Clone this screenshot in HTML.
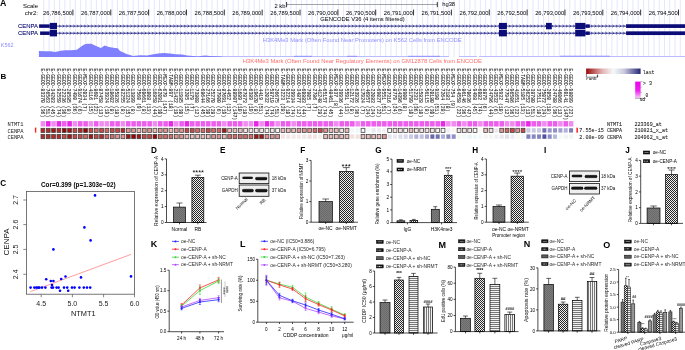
<!DOCTYPE html>
<html><head><meta charset="utf-8"><title>Figure</title>
<style>html,body{margin:0;padding:0;background:#fff;overflow:hidden}svg{display:block}</style>
</head><body><div id="fig">
<svg width="685" height="350" viewBox="0 0 685 350">
<rect width="685" height="350" fill="#fff"/>
<defs><pattern id="pDark" width="2" height="2" patternUnits="userSpaceOnUse"><rect width="2" height="2" fill="#7c7c7c"/><rect width="1" height="1" fill="#6a6a6a"/><rect x="1" y="1" width="1" height="1" fill="#6a6a6a"/></pattern><pattern id="pCheck" width="2" height="2" patternUnits="userSpaceOnUse"><rect width="2" height="2" fill="#eeeeee"/><rect width="1" height="1" fill="#262626"/><rect x="1" y="1" width="1" height="1" fill="#262626"/></pattern><pattern id="pHor" width="2" height="2" patternUnits="userSpaceOnUse"><rect width="2" height="2" fill="#f2f2f2"/><rect width="2" height="0.8" fill="#5a5a5a"/></pattern><pattern id="pVer" width="2" height="2" patternUnits="userSpaceOnUse"><rect width="2" height="2" fill="#f2f2f2"/><rect width="0.8" height="2" fill="#5a5a5a"/></pattern><pattern id="pMid" width="2" height="2" patternUnits="userSpaceOnUse"><rect width="2" height="2" fill="#9a9a9a"/><rect width="1" height="1" fill="#8a8a8a"/></pattern><linearGradient id="gBand" x1="0" x2="0" y1="0" y2="1"><stop offset="0" stop-color="#555" stop-opacity="0"/><stop offset="0.3" stop-color="#161616"/><stop offset="0.7" stop-color="#161616"/><stop offset="1" stop-color="#555" stop-opacity="0"/></linearGradient><filter id="blr" x="-20%" y="-80%" width="140%" height="260%"><feGaussianBlur stdDeviation="0.65"/></filter></defs>
<g>
<path d="M43.80 0V57 M49.06 0V57 M54.32 0V57 M59.58 0V57 M64.84 0V57 M70.10 0V57 M75.36 0V57 M80.62 0V57 M85.88 0V57 M91.14 0V57 M96.40 0V57 M101.66 0V57 M106.92 0V57 M112.18 0V57 M117.44 0V57 M122.70 0V57 M127.96 0V57 M133.22 0V57 M138.48 0V57 M143.74 0V57 M149.00 0V57 M154.26 0V57 M159.52 0V57 M164.78 0V57 M170.04 0V57 M175.30 0V57 M180.56 0V57 M185.82 0V57 M191.08 0V57 M196.34 0V57 M201.60 0V57 M206.86 0V57 M212.12 0V57 M217.38 0V57 M222.64 0V57 M227.90 0V57 M233.16 0V57 M238.42 0V57 M243.68 0V57 M248.94 0V57 M254.20 0V57 M259.46 0V57 M264.72 0V57 M269.98 0V57 M275.24 0V57 M280.50 0V57 M285.76 0V57 M291.02 0V57 M296.28 0V57 M301.54 0V57 M306.80 0V57 M312.06 0V57 M317.32 0V57 M322.58 0V57 M327.84 0V57 M333.10 0V57 M338.36 0V57 M343.62 0V57 M348.88 0V57 M354.14 0V57 M359.40 0V57 M364.66 0V57 M369.92 0V57 M375.18 0V57 M380.44 0V57 M385.70 0V57 M390.96 0V57 M396.22 0V57 M401.48 0V57 M406.74 0V57 M412.00 0V57 M417.26 0V57 M422.52 0V57 M427.78 0V57 M433.04 0V57 M438.30 0V57 M443.56 0V57 M448.82 0V57 M454.08 0V57 M459.34 0V57 M464.60 0V57 M469.86 0V57 M475.12 0V57 M480.38 0V57 M485.64 0V57 M490.90 0V57 M496.16 0V57 M501.42 0V57 M506.68 0V57 M511.94 0V57 M517.20 0V57 M522.46 0V57 M527.72 0V57 M532.98 0V57 M538.24 0V57 M543.50 0V57 M548.76 0V57 M554.02 0V57 M559.28 0V57 M564.54 0V57 M569.80 0V57 M575.06 0V57 M580.32 0V57 M585.58 0V57 M590.84 0V57 M596.10 0V57 M601.36 0V57 M606.62 0V57 M611.88 0V57 M617.14 0V57 M622.40 0V57 M627.66 0V57 M632.92 0V57 M638.18 0V57 M643.44 0V57 M648.70 0V57 M653.96 0V57 M659.22 0V57 M664.48 0V57 M669.74 0V57 M675.00 0V57 M680.26 0V57 M685.52 0V57" stroke="#e6e6ff" stroke-width="1" fill="none"/>
<text x="0.00" y="5.50" font-size="8.8" fill="#000" font-weight="bold" font-family="'Liberation Sans', Arial, sans-serif" >A</text>
<text x="38.00" y="8.40" font-size="6" fill="#000" text-anchor="end" font-family="'Liberation Sans', Arial, sans-serif" >Scale</text>
<text x="38.00" y="14.80" font-size="6" fill="#000" text-anchor="end" font-family="'Liberation Sans', Arial, sans-serif" >chr2:</text>
<text x="72.10" y="14.80" font-size="5.8" fill="#000" text-anchor="end" font-family="'Liberation Sans', Arial, sans-serif" >26,786,500</text>
<text x="109.95" y="14.80" font-size="5.8" fill="#000" text-anchor="end" font-family="'Liberation Sans', Arial, sans-serif" >26,787,000</text>
<text x="147.80" y="14.80" font-size="5.8" fill="#000" text-anchor="end" font-family="'Liberation Sans', Arial, sans-serif" >26,787,500</text>
<text x="185.65" y="14.80" font-size="5.8" fill="#000" text-anchor="end" font-family="'Liberation Sans', Arial, sans-serif" >26,788,000</text>
<text x="223.50" y="14.80" font-size="5.8" fill="#000" text-anchor="end" font-family="'Liberation Sans', Arial, sans-serif" >26,788,500</text>
<text x="261.35" y="14.80" font-size="5.8" fill="#000" text-anchor="end" font-family="'Liberation Sans', Arial, sans-serif" >26,789,000</text>
<text x="299.20" y="14.80" font-size="5.8" fill="#000" text-anchor="end" font-family="'Liberation Sans', Arial, sans-serif" >26,789,500</text>
<text x="337.05" y="14.80" font-size="5.8" fill="#000" text-anchor="end" font-family="'Liberation Sans', Arial, sans-serif" >26,790,000</text>
<text x="374.90" y="14.80" font-size="5.8" fill="#000" text-anchor="end" font-family="'Liberation Sans', Arial, sans-serif" >26,790,500</text>
<text x="412.75" y="14.80" font-size="5.8" fill="#000" text-anchor="end" font-family="'Liberation Sans', Arial, sans-serif" >26,791,000</text>
<text x="450.60" y="14.80" font-size="5.8" fill="#000" text-anchor="end" font-family="'Liberation Sans', Arial, sans-serif" >26,791,500</text>
<text x="488.45" y="14.80" font-size="5.8" fill="#000" text-anchor="end" font-family="'Liberation Sans', Arial, sans-serif" >26,792,000</text>
<text x="526.30" y="14.80" font-size="5.8" fill="#000" text-anchor="end" font-family="'Liberation Sans', Arial, sans-serif" >26,792,500</text>
<text x="564.15" y="14.80" font-size="5.8" fill="#000" text-anchor="end" font-family="'Liberation Sans', Arial, sans-serif" >26,793,000</text>
<text x="602.00" y="14.80" font-size="5.8" fill="#000" text-anchor="end" font-family="'Liberation Sans', Arial, sans-serif" >26,793,500</text>
<text x="639.85" y="14.80" font-size="5.8" fill="#000" text-anchor="end" font-family="'Liberation Sans', Arial, sans-serif" >26,794,000</text>
<text x="677.70" y="14.80" font-size="5.8" fill="#000" text-anchor="end" font-family="'Liberation Sans', Arial, sans-serif" >26,794,500</text>
<path d="M72.90 9.6V15.4 M110.75 9.6V15.4 M148.60 9.6V15.4 M186.45 9.6V15.4 M224.30 9.6V15.4 M262.15 9.6V15.4 M300.00 9.6V15.4 M337.85 9.6V15.4 M375.70 9.6V15.4 M413.55 9.6V15.4 M451.40 9.6V15.4 M489.25 9.6V15.4 M527.10 9.6V15.4 M564.95 9.6V15.4 M602.80 9.6V15.4 M640.65 9.6V15.4 M678.50 9.6V15.4" stroke="#000" stroke-width="0.8"/>
<text x="285.50" y="7.60" font-size="5.8" fill="#000" text-anchor="end" font-family="'Liberation Sans', Arial, sans-serif" >2 kb</text>
<path d="M286.6 4.5H437.3" stroke="#9a9a9a" stroke-width="0.9"/>
<path d="M286.6 2V7.2M437.3 2V7.2" stroke="#000" stroke-width="0.8"/>
<text x="442.20" y="6.40" font-size="5.8" fill="#000" font-family="'Liberation Sans', Arial, sans-serif" >hg38</text>
<text x="362.50" y="21.30" font-size="5.8" fill="#000" text-anchor="middle" font-family="'Liberation Sans', Arial, sans-serif" >GENCODE V36 (4 items filtered)</text>
<path d="M50 26.10H686" stroke="#0c0c78" stroke-width="0.8"/>
<path d="M59.00 24.85L60.50 26.10L59.00 27.35 M62.57 24.85L64.07 26.10L62.57 27.35 M66.14 24.85L67.64 26.10L66.14 27.35 M69.71 24.85L71.21 26.10L69.71 27.35 M73.28 24.85L74.78 26.10L73.28 27.35 M76.85 24.85L78.35 26.10L76.85 27.35 M80.42 24.85L81.92 26.10L80.42 27.35 M83.99 24.85L85.49 26.10L83.99 27.35 M87.56 24.85L89.06 26.10L87.56 27.35 M91.13 24.85L92.63 26.10L91.13 27.35 M94.70 24.85L96.20 26.10L94.70 27.35 M98.27 24.85L99.77 26.10L98.27 27.35 M101.84 24.85L103.34 26.10L101.84 27.35 M105.41 24.85L106.91 26.10L105.41 27.35 M108.98 24.85L110.48 26.10L108.98 27.35 M112.55 24.85L114.05 26.10L112.55 27.35 M116.12 24.85L117.62 26.10L116.12 27.35 M119.69 24.85L121.19 26.10L119.69 27.35 M123.26 24.85L124.76 26.10L123.26 27.35 M126.83 24.85L128.33 26.10L126.83 27.35 M130.40 24.85L131.90 26.10L130.40 27.35 M133.97 24.85L135.47 26.10L133.97 27.35 M137.54 24.85L139.04 26.10L137.54 27.35 M141.11 24.85L142.61 26.10L141.11 27.35 M144.68 24.85L146.18 26.10L144.68 27.35 M148.25 24.85L149.75 26.10L148.25 27.35 M151.82 24.85L153.32 26.10L151.82 27.35 M155.39 24.85L156.89 26.10L155.39 27.35 M158.96 24.85L160.46 26.10L158.96 27.35 M162.53 24.85L164.03 26.10L162.53 27.35 M166.10 24.85L167.60 26.10L166.10 27.35 M169.67 24.85L171.17 26.10L169.67 27.35 M173.24 24.85L174.74 26.10L173.24 27.35 M176.81 24.85L178.31 26.10L176.81 27.35 M180.38 24.85L181.88 26.10L180.38 27.35 M183.95 24.85L185.45 26.10L183.95 27.35 M187.52 24.85L189.02 26.10L187.52 27.35 M191.09 24.85L192.59 26.10L191.09 27.35 M194.66 24.85L196.16 26.10L194.66 27.35 M198.23 24.85L199.73 26.10L198.23 27.35 M201.80 24.85L203.30 26.10L201.80 27.35 M205.37 24.85L206.87 26.10L205.37 27.35 M208.94 24.85L210.44 26.10L208.94 27.35 M212.51 24.85L214.01 26.10L212.51 27.35 M216.08 24.85L217.58 26.10L216.08 27.35 M219.65 24.85L221.15 26.10L219.65 27.35 M223.22 24.85L224.72 26.10L223.22 27.35 M226.79 24.85L228.29 26.10L226.79 27.35 M230.36 24.85L231.86 26.10L230.36 27.35 M233.93 24.85L235.43 26.10L233.93 27.35 M237.50 24.85L239.00 26.10L237.50 27.35 M241.07 24.85L242.57 26.10L241.07 27.35 M244.64 24.85L246.14 26.10L244.64 27.35 M248.21 24.85L249.71 26.10L248.21 27.35 M251.78 24.85L253.28 26.10L251.78 27.35 M255.35 24.85L256.85 26.10L255.35 27.35 M258.92 24.85L260.42 26.10L258.92 27.35 M262.49 24.85L263.99 26.10L262.49 27.35 M266.06 24.85L267.56 26.10L266.06 27.35 M269.63 24.85L271.13 26.10L269.63 27.35 M273.20 24.85L274.70 26.10L273.20 27.35 M276.77 24.85L278.27 26.10L276.77 27.35 M280.34 24.85L281.84 26.10L280.34 27.35 M283.91 24.85L285.41 26.10L283.91 27.35 M287.48 24.85L288.98 26.10L287.48 27.35 M291.05 24.85L292.55 26.10L291.05 27.35 M294.62 24.85L296.12 26.10L294.62 27.35 M298.19 24.85L299.69 26.10L298.19 27.35 M301.76 24.85L303.26 26.10L301.76 27.35 M305.33 24.85L306.83 26.10L305.33 27.35 M308.90 24.85L310.40 26.10L308.90 27.35 M312.47 24.85L313.97 26.10L312.47 27.35 M316.04 24.85L317.54 26.10L316.04 27.35 M319.61 24.85L321.11 26.10L319.61 27.35 M323.18 24.85L324.68 26.10L323.18 27.35 M326.75 24.85L328.25 26.10L326.75 27.35 M330.32 24.85L331.82 26.10L330.32 27.35 M333.89 24.85L335.39 26.10L333.89 27.35 M337.46 24.85L338.96 26.10L337.46 27.35 M341.03 24.85L342.53 26.10L341.03 27.35 M344.60 24.85L346.10 26.10L344.60 27.35 M348.17 24.85L349.67 26.10L348.17 27.35 M351.74 24.85L353.24 26.10L351.74 27.35 M355.31 24.85L356.81 26.10L355.31 27.35 M358.88 24.85L360.38 26.10L358.88 27.35 M362.45 24.85L363.95 26.10L362.45 27.35 M366.02 24.85L367.52 26.10L366.02 27.35 M369.59 24.85L371.09 26.10L369.59 27.35 M373.16 24.85L374.66 26.10L373.16 27.35 M376.73 24.85L378.23 26.10L376.73 27.35 M380.30 24.85L381.80 26.10L380.30 27.35 M383.87 24.85L385.37 26.10L383.87 27.35 M387.44 24.85L388.94 26.10L387.44 27.35 M391.01 24.85L392.51 26.10L391.01 27.35 M394.58 24.85L396.08 26.10L394.58 27.35 M398.15 24.85L399.65 26.10L398.15 27.35 M401.72 24.85L403.22 26.10L401.72 27.35 M405.29 24.85L406.79 26.10L405.29 27.35 M408.86 24.85L410.36 26.10L408.86 27.35 M412.43 24.85L413.93 26.10L412.43 27.35 M416.00 24.85L417.50 26.10L416.00 27.35 M419.57 24.85L421.07 26.10L419.57 27.35 M423.14 24.85L424.64 26.10L423.14 27.35 M426.71 24.85L428.21 26.10L426.71 27.35 M430.28 24.85L431.78 26.10L430.28 27.35 M433.85 24.85L435.35 26.10L433.85 27.35 M437.42 24.85L438.92 26.10L437.42 27.35 M440.99 24.85L442.49 26.10L440.99 27.35 M444.56 24.85L446.06 26.10L444.56 27.35 M448.13 24.85L449.63 26.10L448.13 27.35 M451.70 24.85L453.20 26.10L451.70 27.35 M455.27 24.85L456.77 26.10L455.27 27.35 M458.84 24.85L460.34 26.10L458.84 27.35 M462.41 24.85L463.91 26.10L462.41 27.35 M465.98 24.85L467.48 26.10L465.98 27.35 M469.55 24.85L471.05 26.10L469.55 27.35 M473.12 24.85L474.62 26.10L473.12 27.35 M476.69 24.85L478.19 26.10L476.69 27.35 M480.26 24.85L481.76 26.10L480.26 27.35 M483.83 24.85L485.33 26.10L483.83 27.35 M487.40 24.85L488.90 26.10L487.40 27.35 M490.97 24.85L492.47 26.10L490.97 27.35 M494.54 24.85L496.04 26.10L494.54 27.35 M498.11 24.85L499.61 26.10L498.11 27.35 M501.68 24.85L503.18 26.10L501.68 27.35 M505.25 24.85L506.75 26.10L505.25 27.35 M508.82 24.85L510.32 26.10L508.82 27.35 M512.39 24.85L513.89 26.10L512.39 27.35 M515.96 24.85L517.46 26.10L515.96 27.35 M519.53 24.85L521.03 26.10L519.53 27.35 M523.10 24.85L524.60 26.10L523.10 27.35 M526.67 24.85L528.17 26.10L526.67 27.35 M530.24 24.85L531.74 26.10L530.24 27.35 M533.81 24.85L535.31 26.10L533.81 27.35 M537.38 24.85L538.88 26.10L537.38 27.35 M540.95 24.85L542.45 26.10L540.95 27.35 M544.52 24.85L546.02 26.10L544.52 27.35 M548.09 24.85L549.59 26.10L548.09 27.35 M551.66 24.85L553.16 26.10L551.66 27.35 M555.23 24.85L556.73 26.10L555.23 27.35 M558.80 24.85L560.30 26.10L558.80 27.35 M562.37 24.85L563.87 26.10L562.37 27.35 M565.94 24.85L567.44 26.10L565.94 27.35 M569.51 24.85L571.01 26.10L569.51 27.35 M573.08 24.85L574.58 26.10L573.08 27.35 M576.65 24.85L578.15 26.10L576.65 27.35 M580.22 24.85L581.72 26.10L580.22 27.35 M583.79 24.85L585.29 26.10L583.79 27.35 M587.36 24.85L588.86 26.10L587.36 27.35 M590.93 24.85L592.43 26.10L590.93 27.35 M594.50 24.85L596.00 26.10L594.50 27.35 M598.07 24.85L599.57 26.10L598.07 27.35 M601.64 24.85L603.14 26.10L601.64 27.35 M605.21 24.85L606.71 26.10L605.21 27.35 M608.78 24.85L610.28 26.10L608.78 27.35 M612.35 24.85L613.85 26.10L612.35 27.35 M615.92 24.85L617.42 26.10L615.92 27.35 M619.49 24.85L620.99 26.10L619.49 27.35 M623.06 24.85L624.56 26.10L623.06 27.35 M626.63 24.85L628.13 26.10L626.63 27.35 M630.20 24.85L631.70 26.10L630.20 27.35 M633.77 24.85L635.27 26.10L633.77 27.35 M637.34 24.85L638.84 26.10L637.34 27.35 M640.91 24.85L642.41 26.10L640.91 27.35 M644.48 24.85L645.98 26.10L644.48 27.35 M648.05 24.85L649.55 26.10L648.05 27.35 M651.62 24.85L653.12 26.10L651.62 27.35 M655.19 24.85L656.69 26.10L655.19 27.35 M658.76 24.85L660.26 26.10L658.76 27.35 M662.33 24.85L663.83 26.10L662.33 27.35 M665.90 24.85L667.40 26.10L665.90 27.35 M669.47 24.85L670.97 26.10L669.47 27.35 M673.04 24.85L674.54 26.10L673.04 27.35 M676.61 24.85L678.11 26.10L676.61 27.35 M680.18 24.85L681.68 26.10L680.18 27.35 M683.75 24.85L685.25 26.10L683.75 27.35" stroke="#0c0c78" stroke-width="0.6" fill="none"/>
<rect x="39.1" y="24.35" width="10.70" height="3.5" fill="#0c0c78"/>
<rect x="49.8" y="22.90" width="7.20" height="6.4" fill="#0c0c78"/>
<rect x="499.0" y="22.90" width="7.90" height="6.4" fill="#0c0c78"/>
<rect x="575.2" y="22.90" width="10.20" height="6.4" fill="#0c0c78"/>
<rect x="546.0" y="22.90" width="5.80" height="6.4" fill="#0c0c78"/>
<rect x="585.4" y="24.35" width="4.4" height="3.5" fill="#0c0c78"/>
<rect x="626.1" y="24.25" width="60" height="3.7" fill="#0c0c78"/>
<text x="37.90" y="28.20" font-size="5.9" fill="#0c0c78" text-anchor="end" font-family="'Liberation Sans', Arial, sans-serif" stroke="#0c0c78" stroke-width="0.1">CENPA</text>
<path d="M50 33.20H686" stroke="#0c0c78" stroke-width="0.8"/>
<path d="M59.00 31.95L60.50 33.20L59.00 34.45 M62.57 31.95L64.07 33.20L62.57 34.45 M66.14 31.95L67.64 33.20L66.14 34.45 M69.71 31.95L71.21 33.20L69.71 34.45 M73.28 31.95L74.78 33.20L73.28 34.45 M76.85 31.95L78.35 33.20L76.85 34.45 M80.42 31.95L81.92 33.20L80.42 34.45 M83.99 31.95L85.49 33.20L83.99 34.45 M87.56 31.95L89.06 33.20L87.56 34.45 M91.13 31.95L92.63 33.20L91.13 34.45 M94.70 31.95L96.20 33.20L94.70 34.45 M98.27 31.95L99.77 33.20L98.27 34.45 M101.84 31.95L103.34 33.20L101.84 34.45 M105.41 31.95L106.91 33.20L105.41 34.45 M108.98 31.95L110.48 33.20L108.98 34.45 M112.55 31.95L114.05 33.20L112.55 34.45 M116.12 31.95L117.62 33.20L116.12 34.45 M119.69 31.95L121.19 33.20L119.69 34.45 M123.26 31.95L124.76 33.20L123.26 34.45 M126.83 31.95L128.33 33.20L126.83 34.45 M130.40 31.95L131.90 33.20L130.40 34.45 M133.97 31.95L135.47 33.20L133.97 34.45 M137.54 31.95L139.04 33.20L137.54 34.45 M141.11 31.95L142.61 33.20L141.11 34.45 M144.68 31.95L146.18 33.20L144.68 34.45 M148.25 31.95L149.75 33.20L148.25 34.45 M151.82 31.95L153.32 33.20L151.82 34.45 M155.39 31.95L156.89 33.20L155.39 34.45 M158.96 31.95L160.46 33.20L158.96 34.45 M162.53 31.95L164.03 33.20L162.53 34.45 M166.10 31.95L167.60 33.20L166.10 34.45 M169.67 31.95L171.17 33.20L169.67 34.45 M173.24 31.95L174.74 33.20L173.24 34.45 M176.81 31.95L178.31 33.20L176.81 34.45 M180.38 31.95L181.88 33.20L180.38 34.45 M183.95 31.95L185.45 33.20L183.95 34.45 M187.52 31.95L189.02 33.20L187.52 34.45 M191.09 31.95L192.59 33.20L191.09 34.45 M194.66 31.95L196.16 33.20L194.66 34.45 M198.23 31.95L199.73 33.20L198.23 34.45 M201.80 31.95L203.30 33.20L201.80 34.45 M205.37 31.95L206.87 33.20L205.37 34.45 M208.94 31.95L210.44 33.20L208.94 34.45 M212.51 31.95L214.01 33.20L212.51 34.45 M216.08 31.95L217.58 33.20L216.08 34.45 M219.65 31.95L221.15 33.20L219.65 34.45 M223.22 31.95L224.72 33.20L223.22 34.45 M226.79 31.95L228.29 33.20L226.79 34.45 M230.36 31.95L231.86 33.20L230.36 34.45 M233.93 31.95L235.43 33.20L233.93 34.45 M237.50 31.95L239.00 33.20L237.50 34.45 M241.07 31.95L242.57 33.20L241.07 34.45 M244.64 31.95L246.14 33.20L244.64 34.45 M248.21 31.95L249.71 33.20L248.21 34.45 M251.78 31.95L253.28 33.20L251.78 34.45 M255.35 31.95L256.85 33.20L255.35 34.45 M258.92 31.95L260.42 33.20L258.92 34.45 M262.49 31.95L263.99 33.20L262.49 34.45 M266.06 31.95L267.56 33.20L266.06 34.45 M269.63 31.95L271.13 33.20L269.63 34.45 M273.20 31.95L274.70 33.20L273.20 34.45 M276.77 31.95L278.27 33.20L276.77 34.45 M280.34 31.95L281.84 33.20L280.34 34.45 M283.91 31.95L285.41 33.20L283.91 34.45 M287.48 31.95L288.98 33.20L287.48 34.45 M291.05 31.95L292.55 33.20L291.05 34.45 M294.62 31.95L296.12 33.20L294.62 34.45 M298.19 31.95L299.69 33.20L298.19 34.45 M301.76 31.95L303.26 33.20L301.76 34.45 M305.33 31.95L306.83 33.20L305.33 34.45 M308.90 31.95L310.40 33.20L308.90 34.45 M312.47 31.95L313.97 33.20L312.47 34.45 M316.04 31.95L317.54 33.20L316.04 34.45 M319.61 31.95L321.11 33.20L319.61 34.45 M323.18 31.95L324.68 33.20L323.18 34.45 M326.75 31.95L328.25 33.20L326.75 34.45 M330.32 31.95L331.82 33.20L330.32 34.45 M333.89 31.95L335.39 33.20L333.89 34.45 M337.46 31.95L338.96 33.20L337.46 34.45 M341.03 31.95L342.53 33.20L341.03 34.45 M344.60 31.95L346.10 33.20L344.60 34.45 M348.17 31.95L349.67 33.20L348.17 34.45 M351.74 31.95L353.24 33.20L351.74 34.45 M355.31 31.95L356.81 33.20L355.31 34.45 M358.88 31.95L360.38 33.20L358.88 34.45 M362.45 31.95L363.95 33.20L362.45 34.45 M366.02 31.95L367.52 33.20L366.02 34.45 M369.59 31.95L371.09 33.20L369.59 34.45 M373.16 31.95L374.66 33.20L373.16 34.45 M376.73 31.95L378.23 33.20L376.73 34.45 M380.30 31.95L381.80 33.20L380.30 34.45 M383.87 31.95L385.37 33.20L383.87 34.45 M387.44 31.95L388.94 33.20L387.44 34.45 M391.01 31.95L392.51 33.20L391.01 34.45 M394.58 31.95L396.08 33.20L394.58 34.45 M398.15 31.95L399.65 33.20L398.15 34.45 M401.72 31.95L403.22 33.20L401.72 34.45 M405.29 31.95L406.79 33.20L405.29 34.45 M408.86 31.95L410.36 33.20L408.86 34.45 M412.43 31.95L413.93 33.20L412.43 34.45 M416.00 31.95L417.50 33.20L416.00 34.45 M419.57 31.95L421.07 33.20L419.57 34.45 M423.14 31.95L424.64 33.20L423.14 34.45 M426.71 31.95L428.21 33.20L426.71 34.45 M430.28 31.95L431.78 33.20L430.28 34.45 M433.85 31.95L435.35 33.20L433.85 34.45 M437.42 31.95L438.92 33.20L437.42 34.45 M440.99 31.95L442.49 33.20L440.99 34.45 M444.56 31.95L446.06 33.20L444.56 34.45 M448.13 31.95L449.63 33.20L448.13 34.45 M451.70 31.95L453.20 33.20L451.70 34.45 M455.27 31.95L456.77 33.20L455.27 34.45 M458.84 31.95L460.34 33.20L458.84 34.45 M462.41 31.95L463.91 33.20L462.41 34.45 M465.98 31.95L467.48 33.20L465.98 34.45 M469.55 31.95L471.05 33.20L469.55 34.45 M473.12 31.95L474.62 33.20L473.12 34.45 M476.69 31.95L478.19 33.20L476.69 34.45 M480.26 31.95L481.76 33.20L480.26 34.45 M483.83 31.95L485.33 33.20L483.83 34.45 M487.40 31.95L488.90 33.20L487.40 34.45 M490.97 31.95L492.47 33.20L490.97 34.45 M494.54 31.95L496.04 33.20L494.54 34.45 M498.11 31.95L499.61 33.20L498.11 34.45 M501.68 31.95L503.18 33.20L501.68 34.45 M505.25 31.95L506.75 33.20L505.25 34.45 M508.82 31.95L510.32 33.20L508.82 34.45 M512.39 31.95L513.89 33.20L512.39 34.45 M515.96 31.95L517.46 33.20L515.96 34.45 M519.53 31.95L521.03 33.20L519.53 34.45 M523.10 31.95L524.60 33.20L523.10 34.45 M526.67 31.95L528.17 33.20L526.67 34.45 M530.24 31.95L531.74 33.20L530.24 34.45 M533.81 31.95L535.31 33.20L533.81 34.45 M537.38 31.95L538.88 33.20L537.38 34.45 M540.95 31.95L542.45 33.20L540.95 34.45 M544.52 31.95L546.02 33.20L544.52 34.45 M548.09 31.95L549.59 33.20L548.09 34.45 M551.66 31.95L553.16 33.20L551.66 34.45 M555.23 31.95L556.73 33.20L555.23 34.45 M558.80 31.95L560.30 33.20L558.80 34.45 M562.37 31.95L563.87 33.20L562.37 34.45 M565.94 31.95L567.44 33.20L565.94 34.45 M569.51 31.95L571.01 33.20L569.51 34.45 M573.08 31.95L574.58 33.20L573.08 34.45 M576.65 31.95L578.15 33.20L576.65 34.45 M580.22 31.95L581.72 33.20L580.22 34.45 M583.79 31.95L585.29 33.20L583.79 34.45 M587.36 31.95L588.86 33.20L587.36 34.45 M590.93 31.95L592.43 33.20L590.93 34.45 M594.50 31.95L596.00 33.20L594.50 34.45 M598.07 31.95L599.57 33.20L598.07 34.45 M601.64 31.95L603.14 33.20L601.64 34.45 M605.21 31.95L606.71 33.20L605.21 34.45 M608.78 31.95L610.28 33.20L608.78 34.45 M612.35 31.95L613.85 33.20L612.35 34.45 M615.92 31.95L617.42 33.20L615.92 34.45 M619.49 31.95L620.99 33.20L619.49 34.45 M623.06 31.95L624.56 33.20L623.06 34.45 M626.63 31.95L628.13 33.20L626.63 34.45 M630.20 31.95L631.70 33.20L630.20 34.45 M633.77 31.95L635.27 33.20L633.77 34.45 M637.34 31.95L638.84 33.20L637.34 34.45 M640.91 31.95L642.41 33.20L640.91 34.45 M644.48 31.95L645.98 33.20L644.48 34.45 M648.05 31.95L649.55 33.20L648.05 34.45 M651.62 31.95L653.12 33.20L651.62 34.45 M655.19 31.95L656.69 33.20L655.19 34.45 M658.76 31.95L660.26 33.20L658.76 34.45 M662.33 31.95L663.83 33.20L662.33 34.45 M665.90 31.95L667.40 33.20L665.90 34.45 M669.47 31.95L670.97 33.20L669.47 34.45 M673.04 31.95L674.54 33.20L673.04 34.45 M676.61 31.95L678.11 33.20L676.61 34.45 M680.18 31.95L681.68 33.20L680.18 34.45 M683.75 31.95L685.25 33.20L683.75 34.45" stroke="#0c0c78" stroke-width="0.6" fill="none"/>
<rect x="40.1" y="31.45" width="9.70" height="3.5" fill="#0c0c78"/>
<rect x="49.8" y="30.00" width="7.20" height="6.4" fill="#0c0c78"/>
<rect x="499.0" y="30.00" width="7.90" height="6.4" fill="#0c0c78"/>
<rect x="575.2" y="30.00" width="10.20" height="6.4" fill="#0c0c78"/>
<rect x="585.4" y="31.45" width="4.4" height="3.5" fill="#0c0c78"/>
<rect x="626.1" y="31.35" width="60" height="3.7" fill="#0c0c78"/>
<text x="37.90" y="35.30" font-size="5.9" fill="#0c0c78" text-anchor="end" font-family="'Liberation Sans', Arial, sans-serif" stroke="#0c0c78" stroke-width="0.1">CENPA</text>
<text x="0.80" y="47.20" font-size="5.4" fill="#8c8cff" font-family="'Liberation Sans', Arial, sans-serif" >K562</text>
<text x="262.70" y="42.30" font-size="5.6" fill="#9090ff" font-family="'Liberation Sans', Arial, sans-serif" textLength="199" lengthAdjust="spacingAndGlyphs">H3K4Me3 Mark (Often Found Near Promoters) on K562 Cells from ENCODE</text>
<polygon points="38.9,57 38.9,51.1 44.8,51.3 50.6,51.3 55,52 60.8,50.8 65.2,50.2 71,50.3 76.9,49.8 79.8,47.5 84.2,44.5 87.1,43.7 91.5,43.7 94.4,45.2 97.3,46.5 101,48 104.6,45.6 109,47 114.8,48 117.8,48.3 120,51 123.6,52.5 126.5,54 130.9,55.3 133,56 140,55.3 147,55.6 152,54.5 158,53.6 164,53.0 170,53.5 176,54.2 182,54.6 187,55.5 193,56.0 198,56.2 205,55.5 210,56 222,56.2 222,57" fill="#8080ff"/>
<path d="M222 56.5H449 M459 56.5H477 M479 56.5H686" stroke="#b4b4ff" stroke-width="0.9"/>
<path d="M294 56.3H312M347 56.3H357M408 56.3H440M560 56.2H610" stroke="#8c8cff" stroke-width="0.9"/>
<text x="242.80" y="63.20" font-size="5.6" fill="#ff6e6e" font-family="'Liberation Sans', Arial, sans-serif" textLength="239" lengthAdjust="spacingAndGlyphs">H3K4Me3 Mark (Often Found Near Regulatory Elements) on GM12878 Cells from ENCODE</text>
<text x="0.40" y="79.30" font-size="8.0" fill="#000" font-weight="bold" font-family="'Liberation Sans', Arial, sans-serif" >B</text>
<g font-family="'Liberation Mono', 'Courier New', monospace" font-size="4.8" fill="#151515" stroke="#151515" stroke-width="0.06"><text transform="translate(42.90 68.4) rotate(90) scale(1 1.28)" dy="0.36em">E-GEOD-83370 (36)</text><text transform="translate(48.23 68.4) rotate(90) scale(1 1.28)" dy="0.36em">E-GEOD-76563 (51)</text><text transform="translate(53.57 68.4) rotate(90) scale(1 1.28)" dy="0.36em">E-GEOD-34203 (45)</text><text transform="translate(58.91 68.4) rotate(90) scale(1 1.28)" dy="0.36em">E-GEOD-92559 (74)</text><text transform="translate(64.24 68.4) rotate(90) scale(1 1.28)" dy="0.36em">E-GEOD-22336 (36)</text><text transform="translate(69.58 68.4) rotate(90) scale(1 1.28)" dy="0.36em">E-GEOD-28585 (8)</text><text transform="translate(74.91 68.4) rotate(90) scale(1 1.28)" dy="0.36em">E-GEOD-7490 (36)</text><text transform="translate(80.24 68.4) rotate(90) scale(1 1.28)" dy="0.36em">E-GEOD-91674 (6)</text><text transform="translate(85.58 68.4) rotate(90) scale(1 1.28)" dy="0.36em">E-MEXP-2034 (7)</text><text transform="translate(90.92 68.4) rotate(90) scale(1 1.28)" dy="0.36em">E-GEOD-4116 (15)</text><text transform="translate(96.25 68.4) rotate(90) scale(1 1.28)" dy="0.36em">E-GEOD-8601 (22)</text><text transform="translate(101.58 68.4) rotate(90) scale(1 1.28)" dy="0.36em">E-GEOD-87458 (13)</text><text transform="translate(106.92 68.4) rotate(90) scale(1 1.28)" dy="0.36em">E-GEOD-93924 (19)</text><text transform="translate(112.26 68.4) rotate(90) scale(1 1.28)" dy="0.36em">E-GEOD-10602 (8)</text><text transform="translate(117.59 68.4) rotate(90) scale(1 1.28)" dy="0.36em">E-GEOD-95826 (18)</text><text transform="translate(122.92 68.4) rotate(90) scale(1 1.28)" dy="0.36em">E-GEOD-82255 (8)</text><text transform="translate(128.26 68.4) rotate(90) scale(1 1.28)" dy="0.36em">E-GEOD-51324 (15)</text><text transform="translate(133.59 68.4) rotate(90) scale(1 1.28)" dy="0.36em">E-GEOD-13899 (8)</text><text transform="translate(138.93 68.4) rotate(90) scale(1 1.28)" dy="0.36em">E-GEOD-7560 (9)</text><text transform="translate(144.27 68.4) rotate(90) scale(1 1.28)" dy="0.36em">E-GEOD-60661 (8)</text><text transform="translate(149.60 68.4) rotate(90) scale(1 1.28)" dy="0.36em">E-GEOD-1008 (13)</text><text transform="translate(154.94 68.4) rotate(90) scale(1 1.28)" dy="0.36em">E-GEOD-16858 (44)</text><text transform="translate(160.27 68.4) rotate(90) scale(1 1.28)" dy="0.36em">E-GEOD-62091 (30)</text><text transform="translate(165.61 68.4) rotate(90) scale(1 1.28)" dy="0.36em">E-MEXP-679 (147)</text><text transform="translate(170.94 68.4) rotate(90) scale(1 1.28)" dy="0.36em">E-TABM-897 (18)</text><text transform="translate(176.28 68.4) rotate(90) scale(1 1.28)" dy="0.36em">E-GEOD-21422 (19)</text><text transform="translate(181.61 68.4) rotate(90) scale(1 1.28)" dy="0.36em">E-GEOD-11985 (30)</text><text transform="translate(186.94 68.4) rotate(90) scale(1 1.28)" dy="0.36em">E-GEOD-3205 (15)</text><text transform="translate(192.28 68.4) rotate(90) scale(1 1.28)" dy="0.36em">E-GEOD-1179 (7)</text><text transform="translate(197.62 68.4) rotate(90) scale(1 1.28)" dy="0.36em">E-GEOD-73808 (12)</text><text transform="translate(202.95 68.4) rotate(90) scale(1 1.28)" dy="0.36em">E-GEOD-68644 (45)</text><text transform="translate(208.28 68.4) rotate(90) scale(1 1.28)" dy="0.36em">E-GEOD-27166 (30)</text><text transform="translate(213.62 68.4) rotate(90) scale(1 1.28)" dy="0.36em">E-GEOD-25270 (28)</text><text transform="translate(218.96 68.4) rotate(90) scale(1 1.28)" dy="0.36em">E-GEOD-37900 (6)</text><text transform="translate(224.29 68.4) rotate(90) scale(1 1.28)" dy="0.36em">E-GEOD-87691 (19)</text><text transform="translate(229.62 68.4) rotate(90) scale(1 1.28)" dy="0.36em">E-GEOD-4452 (12)</text><text transform="translate(234.96 68.4) rotate(90) scale(1 1.28)" dy="0.36em">E-GEOD-88907 (147)</text><text transform="translate(240.30 68.4) rotate(90) scale(1 1.28)" dy="0.36em">E-GEOD-1689 (10)</text><text transform="translate(245.63 68.4) rotate(90) scale(1 1.28)" dy="0.36em">E-GEOD-67873 (18)</text><text transform="translate(250.97 68.4) rotate(90) scale(1 1.28)" dy="0.36em">E-GEOD-6389 (19)</text><text transform="translate(256.30 68.4) rotate(90) scale(1 1.28)" dy="0.36em">E-GEOD-19620 (8)</text><text transform="translate(261.63 68.4) rotate(90) scale(1 1.28)" dy="0.36em">E-GEOD-4419 (51)</text><text transform="translate(266.97 68.4) rotate(90) scale(1 1.28)" dy="0.36em">E-GEOD-12032 (74)</text><text transform="translate(272.31 68.4) rotate(90) scale(1 1.28)" dy="0.36em">E-GEOD-58719 (74)</text><text transform="translate(277.64 68.4) rotate(90) scale(1 1.28)" dy="0.36em">E-GEOD-26675 (51)</text><text transform="translate(282.98 68.4) rotate(90) scale(1 1.28)" dy="0.36em">E-TABM-3223 (28)</text><text transform="translate(288.31 68.4) rotate(90) scale(1 1.28)" dy="0.36em">E-GEOD-92214 (10)</text><text transform="translate(293.65 68.4) rotate(90) scale(1 1.28)" dy="0.36em">E-GEOD-39934 (74)</text><text transform="translate(298.98 68.4) rotate(90) scale(1 1.28)" dy="0.36em">E-GEOD-34877 (12)</text><text transform="translate(304.32 68.4) rotate(90) scale(1 1.28)" dy="0.36em">E-GEOD-60883 (44)</text><text transform="translate(309.65 68.4) rotate(90) scale(1 1.28)" dy="0.36em">E-GEOD-7905 (7)</text><text transform="translate(314.99 68.4) rotate(90) scale(1 1.28)" dy="0.36em">E-GEOD-2786 (7)</text><text transform="translate(320.32 68.4) rotate(90) scale(1 1.28)" dy="0.36em">E-GEOD-41248 (28)</text><text transform="translate(325.66 68.4) rotate(90) scale(1 1.28)" dy="0.36em">E-GEOD-65157 (74)</text><text transform="translate(330.99 68.4) rotate(90) scale(1 1.28)" dy="0.36em">E-GEOD-48461 (45)</text><text transform="translate(336.33 68.4) rotate(90) scale(1 1.28)" dy="0.36em">E-MEXP-837 (8)</text><text transform="translate(341.66 68.4) rotate(90) scale(1 1.28)" dy="0.36em">E-GEOD-39936 (44)</text><text transform="translate(347.00 68.4) rotate(90) scale(1 1.28)" dy="0.36em">E-GEOD-5591 (13)</text><text transform="translate(352.33 68.4) rotate(90) scale(1 1.28)" dy="0.36em">E-GEOD-12172 (8)</text><text transform="translate(357.67 68.4) rotate(90) scale(1 1.28)" dy="0.36em">E-GEOD-63926 (36)</text><text transform="translate(363.00 68.4) rotate(90) scale(1 1.28)" dy="0.36em">E-GEOD-17924 (7)</text><text transform="translate(368.34 68.4) rotate(90) scale(1 1.28)" dy="0.36em">E-GEOD-46957 (24)</text><text transform="translate(373.67 68.4) rotate(90) scale(1 1.28)" dy="0.36em">E-GEOD-22083 (24)</text><text transform="translate(379.01 68.4) rotate(90) scale(1 1.28)" dy="0.36em">E-GEOD-69027 (22)</text><text transform="translate(384.34 68.4) rotate(90) scale(1 1.28)" dy="0.36em">E-MEXP-9551 (51)</text><text transform="translate(389.68 68.4) rotate(90) scale(1 1.28)" dy="0.36em">E-GEOD-87316 (7)</text><text transform="translate(395.01 68.4) rotate(90) scale(1 1.28)" dy="0.36em">E-GEOD-8779 (24)</text><text transform="translate(400.35 68.4) rotate(90) scale(1 1.28)" dy="0.36em">E-GEOD-14396 (6)</text><text transform="translate(405.68 68.4) rotate(90) scale(1 1.28)" dy="0.36em">E-GEOD-8900 (8)</text><text transform="translate(411.02 68.4) rotate(90) scale(1 1.28)" dy="0.36em">E-GEOD-51799 (10)</text><text transform="translate(416.35 68.4) rotate(90) scale(1 1.28)" dy="0.36em">E-GEOD-2233 (36)</text><text transform="translate(421.69 68.4) rotate(90) scale(1 1.28)" dy="0.36em">E-GEOD-15828 (10)</text><text transform="translate(427.02 68.4) rotate(90) scale(1 1.28)" dy="0.36em">E-GEOD-56115 (8)</text><text transform="translate(432.36 68.4) rotate(90) scale(1 1.28)" dy="0.36em">E-GEOD-20180 (30)</text><text transform="translate(437.69 68.4) rotate(90) scale(1 1.28)" dy="0.36em">E-GEOD-9190 (51)</text><text transform="translate(443.03 68.4) rotate(90) scale(1 1.28)" dy="0.36em">E-GEOD-7264 (28)</text><text transform="translate(448.36 68.4) rotate(90) scale(1 1.28)" dy="0.36em">E-GEOD-2183 (8)</text><text transform="translate(453.70 68.4) rotate(90) scale(1 1.28)" dy="0.36em">E-MEXP-754 (9)</text><text transform="translate(459.03 68.4) rotate(90) scale(1 1.28)" dy="0.36em">E-GEOD-64558 (22)</text><text transform="translate(464.37 68.4) rotate(90) scale(1 1.28)" dy="0.36em">E-GEOD-86146 (36)</text><text transform="translate(469.70 68.4) rotate(90) scale(1 1.28)" dy="0.36em">E-GEOD-70636 (47)</text><text transform="translate(475.04 68.4) rotate(90) scale(1 1.28)" dy="0.36em">E-GEOD-9498 (45)</text><text transform="translate(480.37 68.4) rotate(90) scale(1 1.28)" dy="0.36em">E-GEOD-6082 (74)</text><text transform="translate(485.71 68.4) rotate(90) scale(1 1.28)" dy="0.36em">E-GEOD-8879 (6)</text><text transform="translate(491.04 68.4) rotate(90) scale(1 1.28)" dy="0.36em">E-GEOD-24796 (44)</text><text transform="translate(496.38 68.4) rotate(90) scale(1 1.28)" dy="0.36em">E-GEOD-43532 (6)</text><text transform="translate(501.71 68.4) rotate(90) scale(1 1.28)" dy="0.36em">E-MEXP-5932 (10)</text><text transform="translate(507.05 68.4) rotate(90) scale(1 1.28)" dy="0.36em">E-GEOD-77947 (12)</text><text transform="translate(512.38 68.4) rotate(90) scale(1 1.28)" dy="0.36em">E-GEOD-96506 (36)</text><text transform="translate(517.71 68.4) rotate(90) scale(1 1.28)" dy="0.36em">E-GEOD-41651 (22)</text><text transform="translate(523.05 68.4) rotate(90) scale(1 1.28)" dy="0.36em">E-TABM-5105 (13)</text><text transform="translate(528.38 68.4) rotate(90) scale(1 1.28)" dy="0.36em">E-GEOD-36252 (13)</text><text transform="translate(533.72 68.4) rotate(90) scale(1 1.28)" dy="0.36em">E-GEOD-38780 (51)</text><text transform="translate(539.05 68.4) rotate(90) scale(1 1.28)" dy="0.36em">E-GEOD-37511 (10)</text><text transform="translate(544.39 68.4) rotate(90) scale(1 1.28)" dy="0.36em">E-GEOD-75072 (24)</text><text transform="translate(549.72 68.4) rotate(90) scale(1 1.28)" dy="0.36em">E-GEOD-2050 (18)</text><text transform="translate(555.06 68.4) rotate(90) scale(1 1.28)" dy="0.36em">E-GEOD-24788 (36)</text><text transform="translate(560.39 68.4) rotate(90) scale(1 1.28)" dy="0.36em">E-GEOD-46066 (13)</text><text transform="translate(565.73 68.4) rotate(90) scale(1 1.28)" dy="0.36em">E-GEOD-60141 (147)</text><text transform="translate(571.06 68.4) rotate(90) scale(1 1.28)" dy="0.36em">E-GEOD-98099 (22)</text></g>
<rect x="40.60" y="121.1" width="4.6" height="5.4" fill="#f08cf0"/><rect x="45.94" y="121.1" width="4.6" height="5.4" fill="#e826e8"/><rect x="51.27" y="121.1" width="4.6" height="5.4" fill="#f08cf0"/><rect x="56.61" y="121.1" width="4.6" height="5.4" fill="#e826e8"/><rect x="61.94" y="121.1" width="4.6" height="5.4" fill="#ec5eec"/><rect x="67.28" y="121.1" width="4.6" height="5.4" fill="#e826e8"/><rect x="72.61" y="121.1" width="4.6" height="5.4" fill="#f08cf0"/><rect x="77.94" y="121.1" width="4.6" height="5.4" fill="#ec5eec"/><rect x="83.28" y="121.1" width="4.6" height="5.4" fill="#ec5eec"/><rect x="88.62" y="121.1" width="4.6" height="5.4" fill="#f08cf0"/><rect x="93.95" y="121.1" width="4.6" height="5.4" fill="#ec5eec"/><rect x="99.28" y="121.1" width="4.6" height="5.4" fill="#f08cf0"/><rect x="104.62" y="121.1" width="4.6" height="5.4" fill="#f08cf0"/><rect x="109.96" y="121.1" width="4.6" height="5.4" fill="#ec5eec"/><rect x="115.29" y="121.1" width="4.6" height="5.4" fill="#ec5eec"/><rect x="120.62" y="121.1" width="4.6" height="5.4" fill="#f08cf0"/><rect x="125.96" y="121.1" width="4.6" height="5.4" fill="#ec5eec"/><rect x="131.29" y="121.1" width="4.6" height="5.4" fill="#ec5eec"/><rect x="136.63" y="121.1" width="4.6" height="5.4" fill="#ec5eec"/><rect x="141.97" y="121.1" width="4.6" height="5.4" fill="#ec5eec"/><rect x="147.30" y="121.1" width="4.6" height="5.4" fill="#ec5eec"/><rect x="152.63" y="121.1" width="4.6" height="5.4" fill="#f08cf0"/><rect x="157.97" y="121.1" width="4.6" height="5.4" fill="#ec5eec"/><rect x="163.31" y="121.1" width="4.6" height="5.4" fill="#ec5eec"/><rect x="168.64" y="121.1" width="4.6" height="5.4" fill="#e826e8"/><rect x="173.97" y="121.1" width="4.6" height="5.4" fill="#f08cf0"/><rect x="179.31" y="121.1" width="4.6" height="5.4" fill="#ec5eec"/><rect x="184.64" y="121.1" width="4.6" height="5.4" fill="#e826e8"/><rect x="189.98" y="121.1" width="4.6" height="5.4" fill="#ec5eec"/><rect x="195.31" y="121.1" width="4.6" height="5.4" fill="#ec5eec"/><rect x="200.65" y="121.1" width="4.6" height="5.4" fill="#ec5eec"/><rect x="205.98" y="121.1" width="4.6" height="5.4" fill="#ec5eec"/><rect x="211.32" y="121.1" width="4.6" height="5.4" fill="#ec5eec"/><rect x="216.66" y="121.1" width="4.6" height="5.4" fill="#ec5eec"/><rect x="221.99" y="121.1" width="4.6" height="5.4" fill="#f08cf0"/><rect x="227.32" y="121.1" width="4.6" height="5.4" fill="#ec5eec"/><rect x="232.66" y="121.1" width="4.6" height="5.4" fill="#ec5eec"/><rect x="238.00" y="121.1" width="4.6" height="5.4" fill="#ec5eec"/><rect x="243.33" y="121.1" width="4.6" height="5.4" fill="#f08cf0"/><rect x="248.66" y="121.1" width="4.6" height="5.4" fill="#f08cf0"/><rect x="254.00" y="121.1" width="4.6" height="5.4" fill="#e826e8"/><rect x="259.33" y="121.1" width="4.6" height="5.4" fill="#f08cf0"/><rect x="264.67" y="121.1" width="4.6" height="5.4" fill="#e826e8"/><rect x="270.00" y="121.1" width="4.6" height="5.4" fill="#ec5eec"/><rect x="275.34" y="121.1" width="4.6" height="5.4" fill="#f08cf0"/><rect x="280.68" y="121.1" width="4.6" height="5.4" fill="#ec5eec"/><rect x="286.01" y="121.1" width="4.6" height="5.4" fill="#ec5eec"/><rect x="291.35" y="121.1" width="4.6" height="5.4" fill="#f08cf0"/><rect x="296.68" y="121.1" width="4.6" height="5.4" fill="#ec5eec"/><rect x="302.02" y="121.1" width="4.6" height="5.4" fill="#ec5eec"/><rect x="307.35" y="121.1" width="4.6" height="5.4" fill="#ec5eec"/><rect x="312.69" y="121.1" width="4.6" height="5.4" fill="#ec5eec"/><rect x="318.02" y="121.1" width="4.6" height="5.4" fill="#ec5eec"/><rect x="323.36" y="121.1" width="4.6" height="5.4" fill="#ec5eec"/><rect x="328.69" y="121.1" width="4.6" height="5.4" fill="#ec5eec"/><rect x="334.03" y="121.1" width="4.6" height="5.4" fill="#f08cf0"/><rect x="339.36" y="121.1" width="4.6" height="5.4" fill="#ec5eec"/><rect x="344.69" y="121.1" width="4.6" height="5.4" fill="#ec5eec"/><rect x="350.03" y="121.1" width="4.6" height="5.4" fill="#ec5eec"/><rect x="355.37" y="121.1" width="4.6" height="5.4" fill="#f08cf0"/><rect x="360.70" y="121.1" width="4.6" height="5.4" fill="#ec5eec"/><rect x="366.04" y="121.1" width="4.6" height="5.4" fill="#ec5eec"/><rect x="371.37" y="121.1" width="4.6" height="5.4" fill="#ec5eec"/><rect x="376.71" y="121.1" width="4.6" height="5.4" fill="#ec5eec"/><rect x="382.04" y="121.1" width="4.6" height="5.4" fill="#ec5eec"/><rect x="387.38" y="121.1" width="4.6" height="5.4" fill="#ec5eec"/><rect x="392.71" y="121.1" width="4.6" height="5.4" fill="#ec5eec"/><rect x="398.05" y="121.1" width="4.6" height="5.4" fill="#ec5eec"/><rect x="403.38" y="121.1" width="4.6" height="5.4" fill="#ec5eec"/><rect x="408.72" y="121.1" width="4.6" height="5.4" fill="#ec5eec"/><rect x="414.05" y="121.1" width="4.6" height="5.4" fill="#ec5eec"/><rect x="419.39" y="121.1" width="4.6" height="5.4" fill="#ec5eec"/><rect x="424.72" y="121.1" width="4.6" height="5.4" fill="#ec5eec"/><rect x="430.06" y="121.1" width="4.6" height="5.4" fill="#ec5eec"/><rect x="435.39" y="121.1" width="4.6" height="5.4" fill="#ec5eec"/><rect x="440.73" y="121.1" width="4.6" height="5.4" fill="#e826e8"/><rect x="446.06" y="121.1" width="4.6" height="5.4" fill="#f08cf0"/><rect x="451.40" y="121.1" width="4.6" height="5.4" fill="#f08cf0"/><rect x="456.73" y="121.1" width="4.6" height="5.4" fill="#ec5eec"/><rect x="462.06" y="121.1" width="4.6" height="5.4" fill="#f08cf0"/><rect x="467.40" y="121.1" width="4.6" height="5.4" fill="#ec5eec"/><rect x="472.74" y="121.1" width="4.6" height="5.4" fill="#ec5eec"/><rect x="478.07" y="121.1" width="4.6" height="5.4" fill="#f08cf0"/><rect x="483.41" y="121.1" width="4.6" height="5.4" fill="#ec5eec"/><rect x="488.74" y="121.1" width="4.6" height="5.4" fill="#ec5eec"/><rect x="494.08" y="121.1" width="4.6" height="5.4" fill="#ec5eec"/><rect x="499.41" y="121.1" width="4.6" height="5.4" fill="#ec5eec"/><rect x="504.75" y="121.1" width="4.6" height="5.4" fill="#f08cf0"/><rect x="510.08" y="121.1" width="4.6" height="5.4" fill="#f08cf0"/><rect x="515.41" y="121.1" width="4.6" height="5.4" fill="#ec5eec"/><rect x="520.75" y="121.1" width="4.6" height="5.4" fill="#ec5eec"/><rect x="526.09" y="121.1" width="4.6" height="5.4" fill="#e826e8"/><rect x="531.42" y="121.1" width="4.6" height="5.4" fill="#ec5eec"/><rect x="536.75" y="121.1" width="4.6" height="5.4" fill="#ec5eec"/><rect x="542.09" y="121.1" width="4.6" height="5.4" fill="#f08cf0"/><rect x="547.42" y="121.1" width="4.6" height="5.4" fill="#ec5eec"/><rect x="552.76" y="121.1" width="4.6" height="5.4" fill="#ec5eec"/><rect x="558.10" y="121.1" width="4.6" height="5.4" fill="#f08cf0"/><rect x="563.43" y="121.1" width="4.6" height="5.4" fill="#ec5eec"/><rect x="568.76" y="121.1" width="4.6" height="5.4" fill="#f08cf0"/><rect x="41.00" y="128.30" width="3.80" height="4.2" fill="#b42a2a" stroke="#404040" stroke-width="0.75"/><rect x="46.34" y="128.30" width="3.80" height="4.2" fill="#b42a2a" stroke="#404040" stroke-width="0.75"/><rect x="51.67" y="128.30" width="3.80" height="4.2" fill="#a61414" stroke="#404040" stroke-width="0.75"/><rect x="57.01" y="128.30" width="3.80" height="4.2" fill="#b42a2a" stroke="#404040" stroke-width="0.75"/><rect x="62.34" y="128.30" width="3.80" height="4.2" fill="#960404" stroke="#404040" stroke-width="0.75"/><rect x="67.68" y="128.30" width="3.80" height="4.2" fill="#a61414" stroke="#404040" stroke-width="0.75"/><rect x="73.01" y="128.30" width="3.80" height="4.2" fill="#c64848" stroke="#404040" stroke-width="0.75"/><rect x="78.34" y="128.30" width="3.80" height="4.2" fill="#b42a2a" stroke="#404040" stroke-width="0.75"/><rect x="83.68" y="128.30" width="3.80" height="4.2" fill="#960404" stroke="#404040" stroke-width="0.75"/><rect x="89.02" y="128.30" width="3.80" height="4.2" fill="#c64848" stroke="#404040" stroke-width="0.75"/><rect x="94.35" y="128.30" width="3.80" height="4.2" fill="#d46a6a" stroke="#404040" stroke-width="0.75"/><rect x="99.69" y="128.30" width="3.80" height="4.2" fill="#c64848" stroke="#404040" stroke-width="0.75"/><rect x="105.02" y="128.30" width="3.80" height="4.2" fill="#d46a6a" stroke="#404040" stroke-width="0.75"/><rect x="110.36" y="128.30" width="3.80" height="4.2" fill="#c64848" stroke="#404040" stroke-width="0.75"/><rect x="115.69" y="128.30" width="3.80" height="4.2" fill="#c64848" stroke="#404040" stroke-width="0.75"/><rect x="121.03" y="128.30" width="3.80" height="4.2" fill="#b42a2a" stroke="#404040" stroke-width="0.75"/><rect x="126.36" y="128.30" width="3.80" height="4.2" fill="#e09494" stroke="#404040" stroke-width="0.75"/><rect x="131.69" y="128.30" width="3.80" height="4.2" fill="#e09494" stroke="#404040" stroke-width="0.75"/><rect x="137.03" y="128.30" width="3.80" height="4.2" fill="#ecbcbc" stroke="#404040" stroke-width="0.75"/><rect x="142.37" y="128.30" width="3.80" height="4.2" fill="#e09494" stroke="#404040" stroke-width="0.75"/><rect x="147.70" y="128.30" width="3.80" height="4.2" fill="#e09494" stroke="#404040" stroke-width="0.75"/><rect x="153.03" y="128.30" width="3.80" height="4.2" fill="#ecbcbc" stroke="#404040" stroke-width="0.75"/><rect x="158.37" y="128.30" width="3.80" height="4.2" fill="#e09494" stroke="#404040" stroke-width="0.75"/><rect x="163.71" y="128.30" width="3.80" height="4.2" fill="#e09494" stroke="#404040" stroke-width="0.75"/><rect x="169.04" y="128.30" width="3.80" height="4.2" fill="#ecbcbc" stroke="#404040" stroke-width="0.75"/><rect x="174.38" y="128.30" width="3.80" height="4.2" fill="#e09494" stroke="#404040" stroke-width="0.75"/><rect x="179.71" y="128.30" width="3.80" height="4.2" fill="#e09494" stroke="#404040" stroke-width="0.75"/><rect x="185.04" y="128.30" width="3.80" height="4.2" fill="#c64848" stroke="#404040" stroke-width="0.75"/><rect x="190.38" y="128.30" width="3.80" height="4.2" fill="#c64848" stroke="#404040" stroke-width="0.75"/><rect x="195.72" y="128.30" width="3.80" height="4.2" fill="#d46a6a" stroke="#404040" stroke-width="0.75"/><rect x="201.05" y="128.30" width="3.80" height="4.2" fill="#d46a6a" stroke="#404040" stroke-width="0.75"/><rect x="206.38" y="128.30" width="3.80" height="4.2" fill="#c64848" stroke="#404040" stroke-width="0.75"/><rect x="211.72" y="128.30" width="3.80" height="4.2" fill="#d46a6a" stroke="#404040" stroke-width="0.75"/><rect x="217.06" y="128.30" width="3.80" height="4.2" fill="#d46a6a" stroke="#404040" stroke-width="0.75"/><rect x="222.39" y="128.30" width="3.80" height="4.2" fill="#a61414" stroke="#404040" stroke-width="0.75"/><rect x="227.72" y="128.30" width="3.80" height="4.2" fill="#ecbcbc" stroke="#404040" stroke-width="0.75"/><rect x="233.06" y="128.30" width="3.80" height="4.2" fill="#ecbcbc" stroke="#404040" stroke-width="0.75"/><rect x="238.40" y="128.30" width="3.80" height="4.2" fill="#ecbcbc" stroke="#404040" stroke-width="0.75"/><rect x="243.73" y="128.30" width="3.80" height="4.2" fill="#f4e2e2" stroke="#404040" stroke-width="0.75"/><rect x="249.06" y="128.30" width="3.80" height="4.2" fill="#f4e2e2" stroke="#404040" stroke-width="0.75"/><rect x="254.40" y="128.30" width="3.80" height="4.2" fill="#f4e2e2" stroke="#404040" stroke-width="0.75"/><rect x="259.73" y="128.30" width="3.80" height="4.2" fill="#f4e2e2" stroke="#404040" stroke-width="0.75"/><rect x="265.07" y="128.30" width="3.80" height="4.2" fill="#faf4f4" stroke="#404040" stroke-width="0.75"/><rect x="270.40" y="128.30" width="3.80" height="4.2" fill="#f4e2e2" stroke="#404040" stroke-width="0.75"/><rect x="275.74" y="128.30" width="3.80" height="4.2" fill="#faf4f4" stroke="#404040" stroke-width="0.75"/><rect x="281.07" y="128.30" width="3.80" height="4.2" fill="#ecbcbc" stroke="#404040" stroke-width="0.75"/><rect x="286.41" y="128.30" width="3.80" height="4.2" fill="#ecbcbc" stroke="#404040" stroke-width="0.75"/><rect x="291.75" y="128.30" width="3.80" height="4.2" fill="#ecbcbc" stroke="#404040" stroke-width="0.75"/><rect x="297.08" y="128.30" width="3.80" height="4.2" fill="#e09494" stroke="#404040" stroke-width="0.75"/><rect x="302.42" y="128.30" width="3.80" height="4.2" fill="#e09494" stroke="#404040" stroke-width="0.75"/><rect x="307.75" y="128.30" width="3.80" height="4.2" fill="#e09494" stroke="#404040" stroke-width="0.75"/><rect x="313.08" y="128.30" width="3.80" height="4.2" fill="#d46a6a" stroke="#404040" stroke-width="0.75"/><rect x="318.42" y="128.30" width="3.80" height="4.2" fill="#c64848" stroke="#404040" stroke-width="0.75"/><rect x="323.75" y="128.30" width="3.80" height="4.2" fill="#e09494" stroke="#404040" stroke-width="0.75"/><rect x="329.09" y="128.30" width="3.80" height="4.2" fill="#ecbcbc" stroke="#404040" stroke-width="0.75"/><rect x="334.43" y="128.30" width="3.80" height="4.2" fill="#ecbcbc" stroke="#404040" stroke-width="0.75"/><rect x="339.76" y="128.30" width="3.80" height="4.2" fill="#f4e2e2" stroke="#404040" stroke-width="0.75"/><rect x="345.09" y="128.30" width="3.80" height="4.2" fill="#ecbcbc" stroke="#404040" stroke-width="0.75"/><rect x="350.33" y="128.20" width="4.00" height="4.4" fill="#eef8f8"/><rect x="355.67" y="128.20" width="4.00" height="4.4" fill="#eef8f8"/><rect x="361.10" y="128.30" width="3.80" height="4.2" fill="#faf4f4" stroke="#404040" stroke-width="0.75"/><rect x="366.34" y="128.20" width="4.00" height="4.4" fill="#f0fafa"/><rect x="371.67" y="128.20" width="4.00" height="4.4" fill="#e8e8f0"/><rect x="377.01" y="128.20" width="4.00" height="4.4" fill="#ececf2"/><rect x="382.34" y="128.20" width="4.00" height="4.4" fill="#f0f0f0"/><rect x="387.77" y="128.30" width="3.80" height="4.2" fill="#faf4f4" stroke="#404040" stroke-width="0.75"/><rect x="393.11" y="128.30" width="3.80" height="4.2" fill="#f4e2e2" stroke="#404040" stroke-width="0.75"/><rect x="398.44" y="128.30" width="3.80" height="4.2" fill="#f4e2e2" stroke="#404040" stroke-width="0.75"/><rect x="403.78" y="128.30" width="3.80" height="4.2" fill="#faf4f4" stroke="#404040" stroke-width="0.75"/><rect x="409.12" y="128.30" width="3.80" height="4.2" fill="#ecbcbc" stroke="#404040" stroke-width="0.75"/><rect x="414.45" y="128.30" width="3.80" height="4.2" fill="#f4e2e2" stroke="#404040" stroke-width="0.75"/><rect x="419.79" y="128.30" width="3.80" height="4.2" fill="#f4e2e2" stroke="#404040" stroke-width="0.75"/><rect x="425.12" y="128.30" width="3.80" height="4.2" fill="#f4e2e2" stroke="#404040" stroke-width="0.75"/><rect x="430.45" y="128.30" width="3.80" height="4.2" fill="#f4e2e2" stroke="#404040" stroke-width="0.75"/><rect x="435.79" y="128.30" width="3.80" height="4.2" fill="#faf4f4" stroke="#404040" stroke-width="0.75"/><rect x="441.12" y="128.30" width="3.80" height="4.2" fill="#faf4f4" stroke="#404040" stroke-width="0.75"/><rect x="446.36" y="128.20" width="4.00" height="4.4" fill="#f0f0f0"/><rect x="451.70" y="128.20" width="4.00" height="4.4" fill="#f8f8f0"/><rect x="457.13" y="128.30" width="3.80" height="4.2" fill="#f4e2e2" stroke="#404040" stroke-width="0.75"/><rect x="462.46" y="128.30" width="3.80" height="4.2" fill="#f4e2e2" stroke="#404040" stroke-width="0.75"/><rect x="467.80" y="128.30" width="3.80" height="4.2" fill="#f4e2e2" stroke="#404040" stroke-width="0.75"/><rect x="473.13" y="128.30" width="3.80" height="4.2" fill="#faf4f4" stroke="#404040" stroke-width="0.75"/><rect x="478.37" y="128.20" width="4.00" height="4.4" fill="#fafaf0"/><rect x="483.81" y="128.30" width="3.80" height="4.2" fill="#ecbcbc" stroke="#404040" stroke-width="0.75"/><rect x="489.14" y="128.30" width="3.80" height="4.2" fill="#f4e2e2" stroke="#404040" stroke-width="0.75"/><rect x="494.38" y="128.20" width="4.00" height="4.4" fill="#e8e8f0"/><rect x="499.81" y="128.30" width="3.80" height="4.2" fill="#e09494" stroke="#404040" stroke-width="0.75"/><rect x="505.14" y="128.30" width="3.80" height="4.2" fill="#d46a6a" stroke="#404040" stroke-width="0.75"/><rect x="510.48" y="128.30" width="3.80" height="4.2" fill="#c64848" stroke="#404040" stroke-width="0.75"/><rect x="515.81" y="128.30" width="3.80" height="4.2" fill="#e09494" stroke="#404040" stroke-width="0.75"/><rect x="521.15" y="128.30" width="3.80" height="4.2" fill="#c64848" stroke="#404040" stroke-width="0.75"/><rect x="526.38" y="128.20" width="4.00" height="4.4" fill="#c8c8e0"/><rect x="531.72" y="128.20" width="4.00" height="4.4" fill="#c8c8e0"/><rect x="537.05" y="128.20" width="4.00" height="4.4" fill="#c8c8e0"/><rect x="542.39" y="128.20" width="4.00" height="4.4" fill="#7070b0"/><rect x="547.72" y="128.20" width="4.00" height="4.4" fill="#9898c8"/><rect x="553.06" y="128.20" width="4.00" height="4.4" fill="#9090c4"/><rect x="558.39" y="128.20" width="4.00" height="4.4" fill="#a0a0cc"/><rect x="563.73" y="128.20" width="4.00" height="4.4" fill="#b0b0d8"/><rect x="569.06" y="128.20" width="4.00" height="4.4" fill="#8080b8"/><rect x="41.00" y="134.50" width="3.80" height="4.2" fill="#b42a2a" stroke="#404040" stroke-width="0.75"/><rect x="46.34" y="134.50" width="3.80" height="4.2" fill="#b42a2a" stroke="#404040" stroke-width="0.75"/><rect x="51.67" y="134.50" width="3.80" height="4.2" fill="#b42a2a" stroke="#404040" stroke-width="0.75"/><rect x="57.01" y="134.50" width="3.80" height="4.2" fill="#b42a2a" stroke="#404040" stroke-width="0.75"/><rect x="62.34" y="134.50" width="3.80" height="4.2" fill="#c64848" stroke="#404040" stroke-width="0.75"/><rect x="67.68" y="134.50" width="3.80" height="4.2" fill="#a61414" stroke="#404040" stroke-width="0.75"/><rect x="73.01" y="134.50" width="3.80" height="4.2" fill="#c64848" stroke="#404040" stroke-width="0.75"/><rect x="78.34" y="134.50" width="3.80" height="4.2" fill="#c64848" stroke="#404040" stroke-width="0.75"/><rect x="83.68" y="134.50" width="3.80" height="4.2" fill="#d46a6a" stroke="#404040" stroke-width="0.75"/><rect x="89.02" y="134.50" width="3.80" height="4.2" fill="#a61414" stroke="#404040" stroke-width="0.75"/><rect x="94.35" y="134.50" width="3.80" height="4.2" fill="#c64848" stroke="#404040" stroke-width="0.75"/><rect x="99.69" y="134.50" width="3.80" height="4.2" fill="#b42a2a" stroke="#404040" stroke-width="0.75"/><rect x="105.02" y="134.50" width="3.80" height="4.2" fill="#d46a6a" stroke="#404040" stroke-width="0.75"/><rect x="110.36" y="134.50" width="3.80" height="4.2" fill="#d46a6a" stroke="#404040" stroke-width="0.75"/><rect x="115.69" y="134.50" width="3.80" height="4.2" fill="#e09494" stroke="#404040" stroke-width="0.75"/><rect x="121.03" y="134.50" width="3.80" height="4.2" fill="#e09494" stroke="#404040" stroke-width="0.75"/><rect x="126.36" y="134.50" width="3.80" height="4.2" fill="#a61414" stroke="#404040" stroke-width="0.75"/><rect x="131.69" y="134.50" width="3.80" height="4.2" fill="#960404" stroke="#404040" stroke-width="0.75"/><rect x="137.03" y="134.50" width="3.80" height="4.2" fill="#a61414" stroke="#404040" stroke-width="0.75"/><rect x="142.37" y="134.50" width="3.80" height="4.2" fill="#c64848" stroke="#404040" stroke-width="0.75"/><rect x="147.70" y="134.50" width="3.80" height="4.2" fill="#c64848" stroke="#404040" stroke-width="0.75"/><rect x="153.03" y="134.50" width="3.80" height="4.2" fill="#960404" stroke="#404040" stroke-width="0.75"/><rect x="158.37" y="134.50" width="3.80" height="4.2" fill="#d46a6a" stroke="#404040" stroke-width="0.75"/><rect x="163.71" y="134.50" width="3.80" height="4.2" fill="#d46a6a" stroke="#404040" stroke-width="0.75"/><rect x="169.04" y="134.50" width="3.80" height="4.2" fill="#d46a6a" stroke="#404040" stroke-width="0.75"/><rect x="174.38" y="134.50" width="3.80" height="4.2" fill="#e09494" stroke="#404040" stroke-width="0.75"/><rect x="179.71" y="134.50" width="3.80" height="4.2" fill="#e09494" stroke="#404040" stroke-width="0.75"/><rect x="185.04" y="134.50" width="3.80" height="4.2" fill="#ecbcbc" stroke="#404040" stroke-width="0.75"/><rect x="190.38" y="134.50" width="3.80" height="4.2" fill="#ecbcbc" stroke="#404040" stroke-width="0.75"/><rect x="195.72" y="134.50" width="3.80" height="4.2" fill="#ecbcbc" stroke="#404040" stroke-width="0.75"/><rect x="201.05" y="134.50" width="3.80" height="4.2" fill="#ecbcbc" stroke="#404040" stroke-width="0.75"/><rect x="206.38" y="134.50" width="3.80" height="4.2" fill="#ecbcbc" stroke="#404040" stroke-width="0.75"/><rect x="211.72" y="134.50" width="3.80" height="4.2" fill="#e09494" stroke="#404040" stroke-width="0.75"/><rect x="217.06" y="134.50" width="3.80" height="4.2" fill="#e09494" stroke="#404040" stroke-width="0.75"/><rect x="222.39" y="134.50" width="3.80" height="4.2" fill="#ecbcbc" stroke="#404040" stroke-width="0.75"/><rect x="227.72" y="134.50" width="3.80" height="4.2" fill="#d46a6a" stroke="#404040" stroke-width="0.75"/><rect x="233.06" y="134.50" width="3.80" height="4.2" fill="#d46a6a" stroke="#404040" stroke-width="0.75"/><rect x="238.40" y="134.50" width="3.80" height="4.2" fill="#d46a6a" stroke="#404040" stroke-width="0.75"/><rect x="243.73" y="134.50" width="3.80" height="4.2" fill="#d46a6a" stroke="#404040" stroke-width="0.75"/><rect x="249.06" y="134.50" width="3.80" height="4.2" fill="#d46a6a" stroke="#404040" stroke-width="0.75"/><rect x="254.40" y="134.50" width="3.80" height="4.2" fill="#a61414" stroke="#404040" stroke-width="0.75"/><rect x="259.73" y="134.50" width="3.80" height="4.2" fill="#a61414" stroke="#404040" stroke-width="0.75"/><rect x="265.07" y="134.50" width="3.80" height="4.2" fill="#e09494" stroke="#404040" stroke-width="0.75"/><rect x="270.40" y="134.50" width="3.80" height="4.2" fill="#e09494" stroke="#404040" stroke-width="0.75"/><rect x="275.74" y="134.50" width="3.80" height="4.2" fill="#e09494" stroke="#404040" stroke-width="0.75"/><rect x="280.98" y="134.40" width="4.00" height="4.4" fill="#f2e6e6"/><rect x="286.31" y="134.40" width="4.00" height="4.4" fill="#f2e6e6"/><rect x="291.65" y="134.40" width="4.00" height="4.4" fill="#f2eaea"/><rect x="296.98" y="134.40" width="4.00" height="4.4" fill="#f0ecec"/><rect x="302.32" y="134.40" width="4.00" height="4.4" fill="#f0e8e8"/><rect x="307.65" y="134.40" width="4.00" height="4.4" fill="#f0e0e0"/><rect x="312.99" y="134.40" width="4.00" height="4.4" fill="#f0e4e4"/><rect x="318.32" y="134.40" width="4.00" height="4.4" fill="#eeeeee"/><rect x="323.75" y="134.50" width="3.80" height="4.2" fill="#ecbcbc" stroke="#404040" stroke-width="0.75"/><rect x="329.09" y="134.50" width="3.80" height="4.2" fill="#ecbcbc" stroke="#404040" stroke-width="0.75"/><rect x="334.43" y="134.50" width="3.80" height="4.2" fill="#ecbcbc" stroke="#404040" stroke-width="0.75"/><rect x="339.76" y="134.50" width="3.80" height="4.2" fill="#ecbcbc" stroke="#404040" stroke-width="0.75"/><rect x="345.09" y="134.50" width="3.80" height="4.2" fill="#ecbcbc" stroke="#404040" stroke-width="0.75"/><rect x="350.33" y="134.40" width="4.00" height="4.4" fill="#f0e0e0"/><rect x="355.67" y="134.40" width="4.00" height="4.4" fill="#f0e0e0"/><rect x="361.10" y="134.50" width="3.80" height="4.2" fill="#ecbcbc" stroke="#404040" stroke-width="0.75"/><rect x="366.44" y="134.50" width="3.80" height="4.2" fill="#ecbcbc" stroke="#404040" stroke-width="0.75"/><rect x="371.77" y="134.50" width="3.80" height="4.2" fill="#ecbcbc" stroke="#404040" stroke-width="0.75"/><rect x="377.11" y="134.50" width="3.80" height="4.2" fill="#ecbcbc" stroke="#404040" stroke-width="0.75"/><rect x="382.44" y="134.50" width="3.80" height="4.2" fill="#e09494" stroke="#404040" stroke-width="0.75"/><rect x="387.68" y="134.40" width="4.00" height="4.4" fill="#e4e4f0"/><rect x="393.01" y="134.40" width="4.00" height="4.4" fill="#e8e8f0"/><rect x="398.35" y="134.40" width="4.00" height="4.4" fill="#dcdcec"/><rect x="403.68" y="134.40" width="4.00" height="4.4" fill="#d8d8ec"/><rect x="409.02" y="134.40" width="4.00" height="4.4" fill="#c8c8e8"/><rect x="414.35" y="134.40" width="4.00" height="4.4" fill="#b0b0d8"/><rect x="419.69" y="134.40" width="4.00" height="4.4" fill="#c0c0e0"/><rect x="425.02" y="134.40" width="4.00" height="4.4" fill="#a8a8d4"/><rect x="430.36" y="134.40" width="4.00" height="4.4" fill="#6868a8"/><rect x="435.69" y="134.40" width="4.00" height="4.4" fill="#7070b0"/><rect x="441.03" y="134.40" width="4.00" height="4.4" fill="#b0b0d8"/><rect x="446.36" y="134.40" width="4.00" height="4.4" fill="#8888c0"/><rect x="451.70" y="134.40" width="4.00" height="4.4" fill="#9090c4"/><rect x="457.03" y="134.40" width="4.00" height="4.4" fill="#f8f8f0"/><rect x="462.37" y="134.40" width="4.00" height="4.4" fill="#f0fafa"/><rect x="467.70" y="134.40" width="4.00" height="4.4" fill="#eef4f4"/><rect x="473.04" y="134.40" width="4.00" height="4.4" fill="#f0f8f8"/><rect x="478.37" y="134.40" width="4.00" height="4.4" fill="#f0fafa"/><rect x="483.71" y="134.40" width="4.00" height="4.4" fill="#f4f4f0"/><rect x="489.04" y="134.40" width="4.00" height="4.4" fill="#f4f4f0"/><rect x="494.38" y="134.40" width="4.00" height="4.4" fill="#f0f0f0"/><rect x="499.71" y="134.40" width="4.00" height="4.4" fill="#e8e8f0"/><rect x="505.05" y="134.40" width="4.00" height="4.4" fill="#e0e0ec"/><rect x="510.38" y="134.40" width="4.00" height="4.4" fill="#ececf0"/><rect x="515.71" y="134.40" width="4.00" height="4.4" fill="#f8f8f0"/><rect x="521.05" y="134.40" width="4.00" height="4.4" fill="#f0fafa"/><rect x="526.38" y="134.40" width="4.00" height="4.4" fill="#8080bc"/><rect x="531.72" y="134.40" width="4.00" height="4.4" fill="#8888c0"/><rect x="537.05" y="134.40" width="4.00" height="4.4" fill="#8484bc"/><rect x="542.39" y="134.40" width="4.00" height="4.4" fill="#5050a0"/><rect x="547.72" y="134.40" width="4.00" height="4.4" fill="#8c8cc4"/><rect x="553.06" y="134.40" width="4.00" height="4.4" fill="#b8b8dc"/><rect x="558.39" y="134.40" width="4.00" height="4.4" fill="#f0fafa"/><rect x="563.73" y="134.40" width="4.00" height="4.4" fill="#f0f4f4"/><rect x="569.06" y="134.40" width="4.00" height="4.4" fill="#f0f4f4"/>
<text x="23.60" y="126.40" font-size="5.4" fill="#222" text-anchor="end" font-family="'Liberation Mono', 'Courier New', monospace" >NTMT1</text>
<text x="23.60" y="132.80" font-size="5.4" fill="#222" text-anchor="end" font-family="'Liberation Mono', 'Courier New', monospace" >CENPA</text>
<text x="23.60" y="139.00" font-size="5.4" fill="#222" text-anchor="end" font-family="'Liberation Mono', 'Courier New', monospace" >CENPA</text>
<rect x="34.9" y="127.6" width="1.4" height="5" fill="#ff2020"/>
<rect x="576.4" y="127.7" width="1.5" height="5" fill="#ff2020"/>
<text x="579.30" y="132.30" font-size="5.1" fill="#222" font-family="'Liberation Mono', 'Courier New', monospace" stroke="#222" stroke-width="0.07">7.55e-15</text>
<text x="579.30" y="138.60" font-size="5.1" fill="#222" font-family="'Liberation Mono', 'Courier New', monospace" stroke="#222" stroke-width="0.07">2.08e-09</text>
<text x="606.90" y="125.90" font-size="5.1" fill="#222" font-family="'Liberation Mono', 'Courier New', monospace" stroke="#222" stroke-width="0.07">NTMT1</text>
<text x="606.90" y="132.30" font-size="5.1" fill="#222" font-family="'Liberation Mono', 'Courier New', monospace" stroke="#222" stroke-width="0.07">CENPA</text>
<text x="606.90" y="138.60" font-size="5.1" fill="#222" font-family="'Liberation Mono', 'Courier New', monospace" stroke="#222" stroke-width="0.07">CENPA</text>
<text x="634.40" y="125.90" font-size="5.1" fill="#222" font-family="'Liberation Mono', 'Courier New', monospace" stroke="#222" stroke-width="0.07">223369_at</text>
<text x="634.40" y="132.30" font-size="5.1" fill="#222" font-family="'Liberation Mono', 'Courier New', monospace" stroke="#222" stroke-width="0.07">210821_x_at</text>
<text x="634.40" y="138.60" font-size="5.1" fill="#222" font-family="'Liberation Mono', 'Courier New', monospace" stroke="#222" stroke-width="0.07">204962_s_at</text>
<defs><linearGradient id="gRB" x1="0" x2="1" y1="0" y2="0"><stop offset="0" stop-color="#9a0c0c"/><stop offset="0.3" stop-color="#e4b4b4"/><stop offset="0.5" stop-color="#f4fafa"/><stop offset="0.7" stop-color="#c8c8dc"/><stop offset="1" stop-color="#262676"/></linearGradient><linearGradient id="gM" x1="0" x2="0" y1="0" y2="1"><stop offset="0" stop-color="#ee00ee"/><stop offset="0.55" stop-color="#ee22ee"/><stop offset="1" stop-color="#f8d0f8"/></linearGradient></defs>
<rect x="586.1" y="68.5" width="54.5" height="5.5" fill="url(#gRB)"/>
<path d="M586.4 74V77.2H598M597.6 74.4V77" stroke="#000" stroke-width="0.5" fill="none"/>
<text x="586.00" y="80.40" font-size="4.4" fill="#222" font-family="'Liberation Mono', 'Courier New', monospace" stroke="#222" stroke-width="0.07">rank</text>
<text x="596.60" y="77.40" font-size="3.2" fill="#222" font-family="'Liberation Mono', 'Courier New', monospace" stroke="#222" stroke-width="0.07">1</text>
<text x="642.80" y="74.00" font-size="4.9" fill="#222" font-family="'Liberation Mono', 'Courier New', monospace" stroke="#222" stroke-width="0.07">last</text>
<rect x="635.2" y="81.6" width="5.4" height="16.6" fill="url(#gM)"/>
<path d="M640.6 81.6H642.4M640.6 87.1H641.8M640.6 92.6H641.8M635 98.4H646" stroke="#666" stroke-width="0.5"/>
<text x="642.80" y="85.00" font-size="5.2" fill="#222" font-family="'Liberation Mono', 'Courier New', monospace" stroke="#222" stroke-width="0.07">&gt; 3</text>
<text x="645.40" y="97.40" font-size="4.6" fill="#222" font-family="'Liberation Mono', 'Courier New', monospace" stroke="#222" stroke-width="0.07">0</text>
<text x="639.40" y="101.40" font-size="4.8" fill="#222" font-family="'Liberation Mono', 'Courier New', monospace" stroke="#222" stroke-width="0.07">sd</text>
<text x="0.30" y="185.70" font-size="8.2" fill="#000" font-weight="bold" font-family="'Liberation Sans', Arial, sans-serif" >C</text>
<text x="41.00" y="187.00" font-size="7.1" fill="#000" font-weight="bold" font-family="'Liberation Sans', Arial, sans-serif" textLength="74.6" lengthAdjust="spacingAndGlyphs">Cor=0.399 (p=1.303e−02)</text>
<rect x="26.4" y="191.4" width="108.1" height="102.8" fill="none" stroke="#555" stroke-width="0.8"/>
<text transform="translate(18.30 200.00) rotate(-90)" font-size="7.0" fill="#222" text-anchor="middle" font-family="'Liberation Sans', Arial, sans-serif" >2.7</text>
<text transform="translate(18.30 224.60) rotate(-90)" font-size="7.0" fill="#222" text-anchor="middle" font-family="'Liberation Sans', Arial, sans-serif" >2.6</text>
<text transform="translate(18.30 249.40) rotate(-90)" font-size="7.0" fill="#222" text-anchor="middle" font-family="'Liberation Sans', Arial, sans-serif" >2.5</text>
<text transform="translate(18.30 274.30) rotate(-90)" font-size="7.0" fill="#222" text-anchor="middle" font-family="'Liberation Sans', Arial, sans-serif" >2.4</text>
<text x="41.20" y="306.20" font-size="7.0" fill="#222" text-anchor="middle" font-family="'Liberation Sans', Arial, sans-serif" >4.5</text>
<text x="72.40" y="306.20" font-size="7.0" fill="#222" text-anchor="middle" font-family="'Liberation Sans', Arial, sans-serif" >5.0</text>
<text x="103.60" y="306.20" font-size="7.0" fill="#222" text-anchor="middle" font-family="'Liberation Sans', Arial, sans-serif" >5.5</text>
<text x="134.50" y="306.20" font-size="7.0" fill="#222" text-anchor="middle" font-family="'Liberation Sans', Arial, sans-serif" >6.0</text>
<path d="M23.3 200.0H26.4 M23.3 224.6H26.4 M23.3 249.4H26.4 M23.3 274.3H26.4 M41.2 294.2V297.3 M72.4 294.2V297.3 M103.6 294.2V297.3 M134.5 294.2V297.3" stroke="#555" stroke-width="0.7"/>
<text transform="translate(8.90 242.00) rotate(-90)" font-size="8.0" fill="#111" text-anchor="middle" font-family="'Liberation Sans', Arial, sans-serif" >CENPA</text>
<text x="83.30" y="316.40" font-size="7.4" fill="#111" text-anchor="middle" font-family="'Liberation Sans', Arial, sans-serif" >NTMT1</text>
<path d="M30.4 291.6L131 254.4" stroke="#ff5a5a" stroke-width="0.6"/>
<g fill="#0000ff"><circle cx="30.6" cy="287.6" r="1.3"/><circle cx="34.4" cy="287.6" r="1.3"/><circle cx="36.4" cy="287.6" r="1.3"/><circle cx="38" cy="287.6" r="1.3"/><circle cx="39.4" cy="287.6" r="1.3"/><circle cx="42" cy="287.6" r="1.3"/><circle cx="45.4" cy="287.6" r="1.3"/><circle cx="46.2" cy="279.2" r="1.3"/><circle cx="50.8" cy="281" r="1.3"/><circle cx="53.4" cy="281" r="1.3"/><circle cx="52" cy="285" r="1.3"/><circle cx="51.6" cy="287.6" r="1.3"/><circle cx="53" cy="287.6" r="1.3"/><circle cx="56.6" cy="287.6" r="1.3"/><circle cx="58.6" cy="287.6" r="1.3"/><circle cx="60" cy="290.8" r="1.3"/><circle cx="61.2" cy="279" r="1.3"/><circle cx="64" cy="287.6" r="1.3"/><circle cx="65.5" cy="276.5" r="1.3"/><circle cx="67.2" cy="287.6" r="1.3"/><circle cx="68.2" cy="290.8" r="1.3"/><circle cx="72" cy="287.6" r="1.3"/><circle cx="74.6" cy="287.6" r="1.3"/><circle cx="79.4" cy="287.6" r="1.3"/><circle cx="81" cy="277.4" r="1.3"/><circle cx="83.8" cy="287.6" r="1.3"/><circle cx="87" cy="287.6" r="1.3"/><circle cx="90.2" cy="287.6" r="1.3"/><circle cx="53.4" cy="249.4" r="1.3"/><circle cx="95" cy="195.4" r="1.3"/><circle cx="84.4" cy="227.4" r="1.3"/><circle cx="90.6" cy="240.4" r="1.3"/><circle cx="131" cy="276.4" r="1.3"/></g>
<text x="151.10" y="153.10" font-size="8.2" fill="#000" font-weight="bold" font-family="'Liberation Sans', Arial, sans-serif" >D</text>
<path d="M166.50 158.90V222.50 M164.70 222.50H166.50 M164.70 206.60H166.50 M164.70 190.70H166.50 M164.70 174.80H166.50 M164.70 158.90H166.50" stroke="#000" stroke-width="0.7" fill="none"/>
<text x="163.70" y="224.19" font-size="4.7" fill="#000" text-anchor="end" font-family="'Liberation Sans', Arial, sans-serif" >0</text>
<text x="163.70" y="208.29" font-size="4.7" fill="#000" text-anchor="end" font-family="'Liberation Sans', Arial, sans-serif" >1</text>
<text x="163.70" y="192.39" font-size="4.7" fill="#000" text-anchor="end" font-family="'Liberation Sans', Arial, sans-serif" >2</text>
<text x="163.70" y="176.49" font-size="4.7" fill="#000" text-anchor="end" font-family="'Liberation Sans', Arial, sans-serif" >3</text>
<text x="163.70" y="160.59" font-size="4.7" fill="#000" text-anchor="end" font-family="'Liberation Sans', Arial, sans-serif" >4</text>
<rect x="173.50" y="207.10" width="12.00" height="15.40" fill="url(#pDark)" stroke="#000" stroke-width="0.7"/>
<path d="M179.50 207.10V203.00M176.50 203.00H182.50" stroke="#000" stroke-width="0.6"/>
<rect x="191.90" y="177.40" width="11.90" height="45.10" fill="url(#pCheck)" stroke="#000" stroke-width="0.7"/>
<path d="M197.85 177.40V175.20M194.88 175.20H200.83" stroke="#000" stroke-width="0.6"/>
<path d="M166.50 222.50H206.50 M179.50 222.50V224.30 M197.85 222.50V224.30" stroke="#000" stroke-width="0.7" fill="none"/>
<text x="198.20" y="174.60" font-size="6.4" fill="#000" text-anchor="middle" font-family="'Liberation Sans', Arial, sans-serif"  textLength="11.5" lengthAdjust="spacingAndGlyphs">****</text>
<text x="179.50" y="230.50" font-size="4.9" fill="#000" text-anchor="middle" font-family="'Liberation Sans', Arial, sans-serif" >Normal</text>
<text x="197.85" y="230.50" font-size="4.9" fill="#000" text-anchor="middle" font-family="'Liberation Sans', Arial, sans-serif" >RB</text>
<text transform="translate(157.60 191.00) rotate(-90)" font-size="4.9" fill="#111" text-anchor="middle" font-family="'Liberation Sans', Arial, sans-serif" textLength="70" lengthAdjust="spacingAndGlyphs">Relative expression of CENP-A</text>
<text x="220.00" y="153.10" font-size="8.2" fill="#000" font-weight="bold" font-family="'Liberation Sans', Arial, sans-serif" >E</text>
<rect x="239.2" y="173.0" width="29.70" height="10.60" fill="#efefef" stroke="#111" stroke-width="0.8"/>
<rect x="239.2" y="185.0" width="29.70" height="11.30" fill="#efefef" stroke="#111" stroke-width="0.8"/>
<rect x="242.30" y="176.05" width="10.60" height="3.50" rx="1.75" fill="url(#gBand)"/><rect x="255.20" y="176.30" width="12.00" height="4.60" rx="2.30" fill="url(#gBand)"/><rect x="242.10" y="188.20" width="11.60" height="4.80" rx="2.40" fill="url(#gBand)"/><rect x="255.20" y="188.20" width="12.30" height="4.80" rx="2.40" fill="url(#gBand)"/>
<text x="237.80" y="180.00" font-size="4.8" fill="#111" text-anchor="end" font-family="'Liberation Sans', Arial, sans-serif"  textLength="16.6" lengthAdjust="spacingAndGlyphs">CENP-A</text>
<text x="237.80" y="192.35" font-size="4.8" fill="#111" text-anchor="end" font-family="'Liberation Sans', Arial, sans-serif"  textLength="16.0" lengthAdjust="spacingAndGlyphs">GAPDH</text>
<text x="271.80" y="180.00" font-size="4.8" fill="#111" font-family="'Liberation Sans', Arial, sans-serif"  textLength="14.2" lengthAdjust="spacingAndGlyphs">18 kDa</text>
<text x="271.80" y="192.35" font-size="4.8" fill="#111" font-family="'Liberation Sans', Arial, sans-serif"  textLength="14.2" lengthAdjust="spacingAndGlyphs">37 kDa</text>
<text transform="translate(248.00 199.50) rotate(-45)" font-size="4.6" fill="#111" text-anchor="end" font-family="'Liberation Sans', Arial, sans-serif" >Normal</text>
<text transform="translate(266.00 200.30) rotate(-45)" font-size="4.6" fill="#111" text-anchor="end" font-family="'Liberation Sans', Arial, sans-serif" >RB</text>
<text x="300.20" y="153.10" font-size="8.2" fill="#000" font-weight="bold" font-family="'Liberation Sans', Arial, sans-serif" >F</text>
<path d="M311.10 160.40V222.20 M309.30 222.20H311.10 M309.30 201.60H311.10 M309.30 181.00H311.10 M309.30 160.40H311.10" stroke="#000" stroke-width="0.7" fill="none"/>
<text x="308.30" y="223.89" font-size="4.7" fill="#000" text-anchor="end" font-family="'Liberation Sans', Arial, sans-serif" >0</text>
<text x="308.30" y="203.29" font-size="4.7" fill="#000" text-anchor="end" font-family="'Liberation Sans', Arial, sans-serif" >1</text>
<text x="308.30" y="182.69" font-size="4.7" fill="#000" text-anchor="end" font-family="'Liberation Sans', Arial, sans-serif" >2</text>
<text x="308.30" y="162.09" font-size="4.7" fill="#000" text-anchor="end" font-family="'Liberation Sans', Arial, sans-serif" >3</text>
<rect x="319.00" y="201.60" width="13.40" height="20.60" fill="url(#pDark)" stroke="#000" stroke-width="0.7"/>
<path d="M325.70 201.60V199.00M322.35 199.00H329.05" stroke="#000" stroke-width="0.6"/>
<rect x="339.40" y="171.50" width="13.80" height="50.70" fill="url(#pCheck)" stroke="#000" stroke-width="0.7"/>
<path d="M346.30 171.50V167.60M342.85 167.60H349.75" stroke="#000" stroke-width="0.6"/>
<path d="M311.10 222.20H358.00 M325.70 222.20V224.00 M346.30 222.20V224.00" stroke="#000" stroke-width="0.7" fill="none"/>
<text x="346.20" y="168.60" font-size="6.4" fill="#000" text-anchor="middle" font-family="'Liberation Sans', Arial, sans-serif"  textLength="9.2" lengthAdjust="spacingAndGlyphs">***</text>
<text x="325.60" y="230.40" font-size="4.9" fill="#000" text-anchor="middle" font-family="'Liberation Sans', Arial, sans-serif" >oe-NC</text>
<text x="346.20" y="230.40" font-size="4.9" fill="#000" text-anchor="middle" font-family="'Liberation Sans', Arial, sans-serif" >oe-NRMT</text>
<text transform="translate(303.30 191.00) rotate(-90)" font-size="4.5" fill="#111" text-anchor="middle" font-family="'Liberation Sans', Arial, sans-serif" textLength="56" lengthAdjust="spacingAndGlyphs">Relative expression of NRMT</text>
<text x="375.20" y="153.10" font-size="8.2" fill="#000" font-weight="bold" font-family="'Liberation Sans', Arial, sans-serif" >G</text>
<path d="M392.00 159.10V222.60 M390.20 222.60H392.00 M390.20 209.90H392.00 M390.20 197.20H392.00 M390.20 184.50H392.00 M390.20 171.80H392.00 M390.20 159.10H392.00" stroke="#000" stroke-width="0.7" fill="none"/>
<text x="389.20" y="224.29" font-size="4.7" fill="#000" text-anchor="end" font-family="'Liberation Sans', Arial, sans-serif" >0</text>
<text x="389.20" y="211.59" font-size="4.7" fill="#000" text-anchor="end" font-family="'Liberation Sans', Arial, sans-serif" >1</text>
<text x="389.20" y="198.89" font-size="4.7" fill="#000" text-anchor="end" font-family="'Liberation Sans', Arial, sans-serif" >2</text>
<text x="389.20" y="186.19" font-size="4.7" fill="#000" text-anchor="end" font-family="'Liberation Sans', Arial, sans-serif" >3</text>
<text x="389.20" y="173.49" font-size="4.7" fill="#000" text-anchor="end" font-family="'Liberation Sans', Arial, sans-serif" >4</text>
<text x="389.20" y="160.79" font-size="4.7" fill="#000" text-anchor="end" font-family="'Liberation Sans', Arial, sans-serif" >5</text>
<rect x="397" y="159.40" width="6.60" height="3.0" fill="#111" stroke="#111" stroke-width="0.6"/><rect x="398.10" y="160.50" width="4.40" height="0.8" fill="#8c8c8c"/>
<rect x="397" y="168.00" width="6.60" height="3.0" fill="#111" stroke="#111" stroke-width="0.6"/><rect x="398.00" y="169.00" width="0.8" height="1.0" fill="#dcdcdc"/><rect x="399.40" y="169.00" width="0.8" height="1.0" fill="#dcdcdc"/><rect x="400.80" y="169.00" width="0.8" height="1.0" fill="#dcdcdc"/>
<text x="406.80" y="162.50" font-size="4.6" fill="#000" font-family="'Liberation Sans', Arial, sans-serif" >oe-NC</text>
<text x="406.80" y="171.10" font-size="4.6" fill="#000" font-family="'Liberation Sans', Arial, sans-serif" >oe-NRMT</text>
<rect x="397.00" y="220.80" width="7.80" height="1.80" fill="url(#pDark)" stroke="#000" stroke-width="0.7"/>
<path d="M400.90 220.80V219.80M398.95 219.80H402.85" stroke="#000" stroke-width="0.6"/>
<rect x="410.00" y="220.40" width="7.70" height="2.20" fill="url(#pCheck)" stroke="#000" stroke-width="0.7"/>
<path d="M413.85 220.40V219.40M411.93 219.40H415.78" stroke="#000" stroke-width="0.6"/>
<rect x="431.30" y="209.30" width="8.00" height="13.30" fill="url(#pDark)" stroke="#000" stroke-width="0.7"/>
<path d="M435.30 209.30V206.70M433.30 206.70H437.30" stroke="#000" stroke-width="0.6"/>
<rect x="444.30" y="175.30" width="7.70" height="47.30" fill="url(#pCheck)" stroke="#000" stroke-width="0.7"/>
<path d="M448.15 175.30V170.70M446.22 170.70H450.07" stroke="#000" stroke-width="0.6"/>
<path d="M392.00 222.60H457.00 M407.40 222.60V224.40 M441.60 222.60V224.40" stroke="#000" stroke-width="0.7" fill="none"/>
<text x="448.20" y="170.60" font-size="5.6" fill="#000" text-anchor="middle" font-family="'Liberation Sans', Arial, sans-serif"  textLength="6.5" lengthAdjust="spacingAndGlyphs">***</text>
<text x="407.40" y="230.50" font-size="4.9" fill="#000" text-anchor="middle" font-family="'Liberation Sans', Arial, sans-serif" >IgG</text>
<text x="441.60" y="230.50" font-size="4.9" fill="#000" text-anchor="middle" font-family="'Liberation Sans', Arial, sans-serif" >H3K4me3</text>
<text transform="translate(379.30 194.00) rotate(-90)" font-size="4.5" fill="#111" text-anchor="middle" font-family="'Liberation Sans', Arial, sans-serif" textLength="61" lengthAdjust="spacingAndGlyphs">Relative gene enrichment (%)</text>
<text x="472.30" y="153.10" font-size="8.2" fill="#000" font-weight="bold" font-family="'Liberation Sans', Arial, sans-serif" >H</text>
<path d="M486.40 159.00V222.20 M484.60 222.20H486.40 M484.60 206.40H486.40 M484.60 190.60H486.40 M484.60 174.80H486.40 M484.60 159.00H486.40" stroke="#000" stroke-width="0.7" fill="none"/>
<text x="483.60" y="223.89" font-size="4.7" fill="#000" text-anchor="end" font-family="'Liberation Sans', Arial, sans-serif" >0</text>
<text x="483.60" y="208.09" font-size="4.7" fill="#000" text-anchor="end" font-family="'Liberation Sans', Arial, sans-serif" >1</text>
<text x="483.60" y="192.29" font-size="4.7" fill="#000" text-anchor="end" font-family="'Liberation Sans', Arial, sans-serif" >2</text>
<text x="483.60" y="176.49" font-size="4.7" fill="#000" text-anchor="end" font-family="'Liberation Sans', Arial, sans-serif" >3</text>
<text x="483.60" y="160.69" font-size="4.7" fill="#000" text-anchor="end" font-family="'Liberation Sans', Arial, sans-serif" >4</text>
<rect x="493.00" y="206.60" width="11.90" height="15.60" fill="url(#pDark)" stroke="#000" stroke-width="0.7"/>
<path d="M498.95 206.60V205.00M495.98 205.00H501.92" stroke="#000" stroke-width="0.6"/>
<rect x="511.10" y="176.20" width="12.30" height="46.00" fill="url(#pCheck)" stroke="#000" stroke-width="0.7"/>
<path d="M517.25 176.20V173.00M514.17 173.00H520.33" stroke="#000" stroke-width="0.6"/>
<path d="M486.40 222.20H528.80 M499.00 222.20V224.00 M517.30 222.20V224.00" stroke="#000" stroke-width="0.7" fill="none"/>
<text x="517.30" y="174.20" font-size="6.0" fill="#000" text-anchor="middle" font-family="'Liberation Sans', Arial, sans-serif"  textLength="10" lengthAdjust="spacingAndGlyphs">****</text>
<text x="499.00" y="230.50" font-size="4.9" fill="#000" text-anchor="middle" font-family="'Liberation Sans', Arial, sans-serif" >oe-NC</text>
<text x="518.20" y="230.50" font-size="4.9" fill="#000" text-anchor="middle" font-family="'Liberation Sans', Arial, sans-serif" >oe-NRMT</text>
<text x="508.70" y="236.60" font-size="4.6" fill="#000" text-anchor="middle" font-family="'Liberation Sans', Arial, sans-serif" >Promoter region</text>
<text transform="translate(478.00 191.00) rotate(-90)" font-size="4.5" fill="#111" text-anchor="middle" font-family="'Liberation Sans', Arial, sans-serif" textLength="57" lengthAdjust="spacingAndGlyphs">Relative expression of CENP-A</text>
<text x="544.00" y="153.10" font-size="8.2" fill="#000" font-weight="bold" font-family="'Liberation Sans', Arial, sans-serif" >I</text>
<rect x="569.4" y="171.0" width="30.00" height="10.60" fill="#efefef" stroke="#111" stroke-width="0.8"/>
<rect x="569.4" y="183.4" width="30.00" height="10.60" fill="#efefef" stroke="#111" stroke-width="0.8"/>
<rect x="571.70" y="174.10" width="10.60" height="3.80" rx="1.90" fill="url(#gBand)"/><rect x="584.70" y="174.30" width="12.60" height="4.40" rx="2.20" fill="url(#gBand)"/><rect x="571.20" y="185.90" width="12.10" height="4.60" rx="2.30" fill="url(#gBand)"/><rect x="584.20" y="185.90" width="13.10" height="4.60" rx="2.30" fill="url(#gBand)"/>
<text x="567.40" y="178.00" font-size="4.8" fill="#111" text-anchor="end" font-family="'Liberation Sans', Arial, sans-serif"  textLength="16.6" lengthAdjust="spacingAndGlyphs">CENP-A</text>
<text x="567.40" y="190.40" font-size="4.8" fill="#111" text-anchor="end" font-family="'Liberation Sans', Arial, sans-serif"  textLength="16.0" lengthAdjust="spacingAndGlyphs">GAPDH</text>
<text x="601.00" y="178.00" font-size="4.8" fill="#111" font-family="'Liberation Sans', Arial, sans-serif"  textLength="14.2" lengthAdjust="spacingAndGlyphs">18 kDa</text>
<text x="601.00" y="190.40" font-size="4.8" fill="#111" font-family="'Liberation Sans', Arial, sans-serif"  textLength="14.2" lengthAdjust="spacingAndGlyphs">37 kDa</text>
<text transform="translate(576.50 201.00) rotate(-45)" font-size="4.6" fill="#111" text-anchor="end" font-family="'Liberation Sans', Arial, sans-serif" >oe-NC</text>
<text transform="translate(595.50 198.00) rotate(-45)" font-size="4.6" fill="#111" text-anchor="end" font-family="'Liberation Sans', Arial, sans-serif" >oe-NRMT</text>
<text x="625.20" y="153.10" font-size="8.2" fill="#000" font-weight="bold" font-family="'Liberation Sans', Arial, sans-serif" >J</text>
<path d="M640.70 160.40V223.40 M638.90 223.40H640.70 M638.90 207.65H640.70 M638.90 191.90H640.70 M638.90 176.15H640.70 M638.90 160.40H640.70" stroke="#000" stroke-width="0.7" fill="none"/>
<text x="637.90" y="225.09" font-size="4.7" fill="#000" text-anchor="end" font-family="'Liberation Sans', Arial, sans-serif" >0</text>
<text x="637.90" y="209.34" font-size="4.7" fill="#000" text-anchor="end" font-family="'Liberation Sans', Arial, sans-serif" >1</text>
<text x="637.90" y="193.59" font-size="4.7" fill="#000" text-anchor="end" font-family="'Liberation Sans', Arial, sans-serif" >2</text>
<text x="637.90" y="177.84" font-size="4.7" fill="#000" text-anchor="end" font-family="'Liberation Sans', Arial, sans-serif" >3</text>
<text x="637.90" y="162.09" font-size="4.7" fill="#000" text-anchor="end" font-family="'Liberation Sans', Arial, sans-serif" >4</text>
<rect x="643.3" y="151.00" width="6.40" height="3.0" fill="#111" stroke="#111" stroke-width="0.6"/><rect x="644.40" y="152.10" width="4.20" height="0.8" fill="#8c8c8c"/>
<rect x="643.3" y="159.70" width="6.40" height="3.0" fill="#111" stroke="#111" stroke-width="0.6"/><rect x="644.30" y="160.70" width="0.8" height="1.0" fill="#dcdcdc"/><rect x="645.70" y="160.70" width="0.8" height="1.0" fill="#dcdcdc"/><rect x="647.10" y="160.70" width="0.8" height="1.0" fill="#dcdcdc"/>
<text x="652.80" y="154.20" font-size="4.6" fill="#000" font-family="'Liberation Sans', Arial, sans-serif" >oe-NC</text>
<text x="652.80" y="162.90" font-size="4.6" fill="#000" font-family="'Liberation Sans', Arial, sans-serif" >oe-CENP-A</text>
<rect x="647.10" y="208.00" width="12.90" height="15.40" fill="url(#pDark)" stroke="#000" stroke-width="0.7"/>
<path d="M653.55 208.00V206.00M650.32 206.00H656.77" stroke="#000" stroke-width="0.6"/>
<rect x="665.60" y="174.60" width="11.90" height="48.80" fill="url(#pCheck)" stroke="#000" stroke-width="0.7"/>
<path d="M671.55 174.60V170.00M668.57 170.00H674.52" stroke="#000" stroke-width="0.6"/>
<path d="M640.70 223.40H683.00 M653.50 223.40V225.20 M671.50 223.40V225.20" stroke="#000" stroke-width="0.7" fill="none"/>
<text x="671.50" y="170.80" font-size="6.2" fill="#000" text-anchor="middle" font-family="'Liberation Sans', Arial, sans-serif"  textLength="9" lengthAdjust="spacingAndGlyphs">***</text>
<text transform="translate(632.20 189.80) rotate(-90)" font-size="5.9" fill="#111" text-anchor="middle" font-family="'Liberation Sans', Arial, sans-serif" textLength="65" lengthAdjust="spacingAndGlyphs">Relative expression of CENP-A</text>
<text x="150.80" y="246.70" font-size="9.0" fill="#000" font-weight="bold" font-family="'Liberation Sans', Arial, sans-serif" >K</text>
<path d="M172.0 241.4H178.9" stroke="#2626ff" stroke-width="0.8"/>
<circle cx="175.45" cy="241.4" r="1.0" fill="#2626ff"/>
<text x="181.10" y="243.15" font-size="4.9" fill="#2a2a2a" font-family="'Liberation Sans', Arial, sans-serif" stroke="none">oe-NC</text>
<path d="M172.0 249.2H178.9" stroke="#ff2626" stroke-width="0.8"/>
<circle cx="175.45" cy="249.2" r="1.0" fill="#ff2626"/>
<text x="181.10" y="250.95" font-size="4.9" fill="#2a2a2a" font-family="'Liberation Sans', Arial, sans-serif" stroke="none">oe-CENP-A</text>
<path d="M172.0 257.2H178.9" stroke="#3ad83a" stroke-width="0.8"/>
<circle cx="175.45" cy="257.2" r="1.0" fill="#3ad83a"/>
<text x="181.10" y="258.95" font-size="4.9" fill="#2a2a2a" font-family="'Liberation Sans', Arial, sans-serif" stroke="none">oe-CENP-A + sh-NC</text>
<path d="M172.0 264.7H178.9" stroke="#b446ff" stroke-width="0.8"/>
<circle cx="175.45" cy="264.7" r="1.0" fill="#b446ff"/>
<text x="181.10" y="266.45" font-size="4.9" fill="#2a2a2a" font-family="'Liberation Sans', Arial, sans-serif" stroke="none">oe-CENP-A + sh-NRMT</text>
<path d="M169.20 270.20V331.70 M167.40 331.70H169.20 M167.40 311.20H169.20 M167.40 290.70H169.20 M167.40 270.20H169.20" stroke="#000" stroke-width="0.7" fill="none"/>
<text x="166.40" y="333.36" font-size="4.6" fill="#000" text-anchor="end" font-family="'Liberation Sans', Arial, sans-serif" >0.0</text>
<text x="166.40" y="312.86" font-size="4.6" fill="#000" text-anchor="end" font-family="'Liberation Sans', Arial, sans-serif" >0.5</text>
<text x="166.40" y="292.36" font-size="4.6" fill="#000" text-anchor="end" font-family="'Liberation Sans', Arial, sans-serif" >1.0</text>
<text x="166.40" y="271.86" font-size="4.6" fill="#000" text-anchor="end" font-family="'Liberation Sans', Arial, sans-serif" >1.5</text>
<path d="M169.20 331.70H224.00 M181.60 331.70V333.50 M199.90 331.70V333.50 M218.60 331.70V333.50" stroke="#000" stroke-width="0.7" fill="none"/>
<text x="181.60" y="340.00" font-size="4.6" fill="#000" text-anchor="middle" font-family="'Liberation Sans', Arial, sans-serif" >24 h</text>
<text x="199.90" y="340.00" font-size="4.6" fill="#000" text-anchor="middle" font-family="'Liberation Sans', Arial, sans-serif" >48 h</text>
<text x="218.60" y="340.00" font-size="4.6" fill="#000" text-anchor="middle" font-family="'Liberation Sans', Arial, sans-serif" >72 h</text>
<text transform="translate(159.00 302.00) rotate(-90)" font-size="4.6" fill="#111" text-anchor="middle" font-family="'Liberation Sans', Arial, sans-serif" textLength="33" lengthAdjust="spacingAndGlyphs">OD value (450 nm)</text>
<path d="M181.60 305.00L199.90 287.90L218.60 279.90" stroke="#ff2626" stroke-width="0.8" fill="none"/>
<path d="M181.60 303.50V306.50M180.60 303.50H182.60M180.60 306.50H182.60M199.90 284.90V290.90M198.90 284.90H200.90M198.90 290.90H200.90M218.60 277.40V282.40M217.60 277.40H219.60M217.60 282.40H219.60" stroke="#ff2626" stroke-width="0.6" fill="none"/>
<circle cx="181.60" cy="305.00" r="1.0" fill="#ff2626"/><circle cx="199.90" cy="287.90" r="1.0" fill="#ff2626"/><circle cx="218.60" cy="279.90" r="1.0" fill="#ff2626"/>
<path d="M181.60 306.10L199.90 290.60L218.60 281.00" stroke="#3ad83a" stroke-width="0.8" fill="none"/>
<path d="M181.60 304.60V307.60M180.60 304.60H182.60M180.60 307.60H182.60M199.90 286.60V294.60M198.90 286.60H200.90M198.90 294.60H200.90M218.60 278.50V283.50M217.60 278.50H219.60M217.60 283.50H219.60" stroke="#3ad83a" stroke-width="0.6" fill="none"/>
<circle cx="181.60" cy="306.10" r="1.0" fill="#3ad83a"/><circle cx="199.90" cy="290.60" r="1.0" fill="#3ad83a"/><circle cx="218.60" cy="281.00" r="1.0" fill="#3ad83a"/>
<path d="M181.60 307.00L199.90 300.40L218.60 297.70" stroke="#b446ff" stroke-width="0.8" fill="none"/>
<path d="M181.60 305.50V308.50M180.60 305.50H182.60M180.60 308.50H182.60M199.90 298.40V302.40M198.90 298.40H200.90M198.90 302.40H200.90M218.60 295.70V299.70M217.60 295.70H219.60M217.60 299.70H219.60" stroke="#b446ff" stroke-width="0.6" fill="none"/>
<circle cx="181.60" cy="307.00" r="1.0" fill="#b446ff"/><circle cx="199.90" cy="300.40" r="1.0" fill="#b446ff"/><circle cx="218.60" cy="297.70" r="1.0" fill="#b446ff"/>
<path d="M181.60 308.40L199.90 302.00L218.60 299.70" stroke="#2626ff" stroke-width="0.8" fill="none"/>
<path d="M181.60 306.90V309.90M180.60 306.90H182.60M180.60 309.90H182.60M199.90 299.50V304.50M198.90 299.50H200.90M198.90 304.50H200.90M218.60 297.70V301.70M217.60 297.70H219.60M217.60 301.70H219.60" stroke="#2626ff" stroke-width="0.6" fill="none"/>
<circle cx="181.60" cy="308.40" r="1.0" fill="#2626ff"/><circle cx="199.90" cy="302.00" r="1.0" fill="#2626ff"/><circle cx="218.60" cy="299.70" r="1.0" fill="#2626ff"/>
<path d="M221.4 279.6V303" stroke="#333" stroke-width="0.5"/>
<path d="M225.0 281.3V297" stroke="#aaa" stroke-width="0.6"/>
<text transform="translate(221.00 291.00) rotate(90)" font-size="4.6" fill="#111" text-anchor="middle" font-family="'Liberation Sans', Arial, sans-serif" textLength="7.3" lengthAdjust="spacingAndGlyphs">****</text>
<text transform="translate(225.60 289.50) rotate(90)" font-size="3.6" fill="#111" text-anchor="middle" font-family="'Liberation Sans', Arial, sans-serif" textLength="7" lengthAdjust="spacingAndGlyphs">####</text>
<text x="240.00" y="246.70" font-size="9.0" fill="#000" font-weight="bold" font-family="'Liberation Sans', Arial, sans-serif" >L</text>
<path d="M260.8 241.3H268.0" stroke="#2626ff" stroke-width="0.8"/>
<circle cx="264.40" cy="241.3" r="1.0" fill="#2626ff"/>
<text x="270.20" y="243.05" font-size="4.9" fill="#2a2a2a" font-family="'Liberation Sans', Arial, sans-serif" stroke="none">oe-NC (IC50=3.886)</text>
<path d="M260.8 249.2H268.0" stroke="#ff2626" stroke-width="0.8"/>
<circle cx="264.40" cy="249.2" r="1.0" fill="#ff2626"/>
<text x="270.20" y="250.95" font-size="4.9" fill="#2a2a2a" font-family="'Liberation Sans', Arial, sans-serif" stroke="none">oe-CENP-A (IC50=6.795)</text>
<path d="M260.8 257.0H268.0" stroke="#3ad83a" stroke-width="0.8"/>
<circle cx="264.40" cy="257.0" r="1.0" fill="#3ad83a"/>
<text x="270.20" y="258.75" font-size="4.9" fill="#2a2a2a" font-family="'Liberation Sans', Arial, sans-serif" stroke="none">oe-CENP-A + sh-NC (IC50=7.263)</text>
<path d="M260.8 264.9H268.0" stroke="#b446ff" stroke-width="0.8"/>
<circle cx="264.40" cy="264.9" r="1.0" fill="#b446ff"/>
<text x="270.20" y="266.65" font-size="4.9" fill="#2a2a2a" font-family="'Liberation Sans', Arial, sans-serif" stroke="none">oe-CENP-A + sh-NRMT (IC50=3.280)</text>
<path d="M257.80 259.27V322.20 M256.00 322.20H257.80 M256.00 301.22H257.80 M256.00 280.25H257.80 M256.00 259.27H257.80" stroke="#000" stroke-width="0.7" fill="none"/>
<text x="255.00" y="323.86" font-size="4.6" fill="#000" text-anchor="end" font-family="'Liberation Sans', Arial, sans-serif" >0</text>
<text x="255.00" y="302.88" font-size="4.6" fill="#000" text-anchor="end" font-family="'Liberation Sans', Arial, sans-serif" >50</text>
<text x="255.00" y="281.91" font-size="4.6" fill="#000" text-anchor="end" font-family="'Liberation Sans', Arial, sans-serif" >100</text>
<text x="255.00" y="260.93" font-size="4.6" fill="#000" text-anchor="end" font-family="'Liberation Sans', Arial, sans-serif" >150</text>
<path d="M257.80 322.20H353.70 M266.40 322.20V324.00 M279.45 322.20V324.00 M292.50 322.20V324.00 M305.55 322.20V324.00 M318.60 322.20V324.00 M331.65 322.20V324.00 M344.70 322.20V324.00" stroke="#000" stroke-width="0.7" fill="none"/>
<text x="266.40" y="331.20" font-size="4.6" fill="#000" text-anchor="middle" font-family="'Liberation Sans', Arial, sans-serif" >0</text>
<text x="279.45" y="331.20" font-size="4.6" fill="#000" text-anchor="middle" font-family="'Liberation Sans', Arial, sans-serif" >2</text>
<text x="292.50" y="331.20" font-size="4.6" fill="#000" text-anchor="middle" font-family="'Liberation Sans', Arial, sans-serif" >4</text>
<text x="305.55" y="331.20" font-size="4.6" fill="#000" text-anchor="middle" font-family="'Liberation Sans', Arial, sans-serif" >6</text>
<text x="318.60" y="331.20" font-size="4.6" fill="#000" text-anchor="middle" font-family="'Liberation Sans', Arial, sans-serif" >8</text>
<text x="331.65" y="331.20" font-size="4.6" fill="#000" text-anchor="middle" font-family="'Liberation Sans', Arial, sans-serif" >10</text>
<text x="344.70" y="331.20" font-size="4.6" fill="#000" text-anchor="middle" font-family="'Liberation Sans', Arial, sans-serif" >12</text>
<text x="305.80" y="337.00" font-size="5.0" fill="#000" text-anchor="middle" font-family="'Liberation Sans', Arial, sans-serif" >CDDP concentration</text>
<text x="342.00" y="336.60" font-size="4.6" fill="#000" font-family="'Liberation Sans', Arial, sans-serif" >μg/ml</text>
<text transform="translate(242.00 293.50) rotate(-90)" font-size="5.0" fill="#111" text-anchor="middle" font-family="'Liberation Sans', Arial, sans-serif" textLength="36" lengthAdjust="spacingAndGlyphs">Surviving rate  (%)</text>
<path d="M266.40 280.25L279.45 284.03L292.50 287.38L305.55 297.03L318.60 303.32L331.65 309.20L344.70 315.07" stroke="#3ad83a" stroke-width="0.8" fill="none"/>
<path d="M266.40 277.75V282.75M265.40 277.75H267.40M265.40 282.75H267.40M279.45 282.03V286.03M278.45 282.03H280.45M278.45 286.03H280.45M292.50 285.38V289.38M291.50 285.38H293.50M291.50 289.38H293.50M305.55 293.03V301.03M304.55 293.03H306.55M304.55 301.03H306.55M318.60 301.32V305.32M317.60 301.32H319.60M317.60 305.32H319.60M331.65 306.70V311.70M330.65 306.70H332.65M330.65 311.70H332.65M344.70 313.57V316.57M343.70 313.57H345.70M343.70 316.57H345.70" stroke="#3ad83a" stroke-width="0.6" fill="none"/>
<circle cx="266.40" cy="280.25" r="1.0" fill="#3ad83a"/><circle cx="279.45" cy="284.03" r="1.0" fill="#3ad83a"/><circle cx="292.50" cy="287.38" r="1.0" fill="#3ad83a"/><circle cx="305.55" cy="297.03" r="1.0" fill="#3ad83a"/><circle cx="318.60" cy="303.32" r="1.0" fill="#3ad83a"/><circle cx="331.65" cy="309.20" r="1.0" fill="#3ad83a"/><circle cx="344.70" cy="315.07" r="1.0" fill="#3ad83a"/>
<path d="M266.40 280.25L279.45 284.86L292.50 289.06L305.55 298.71L318.60 304.58L331.65 310.03L344.70 315.91" stroke="#ff2626" stroke-width="0.8" fill="none"/>
<path d="M266.40 277.75V282.75M265.40 277.75H267.40M265.40 282.75H267.40M279.45 282.36V287.36M278.45 282.36H280.45M278.45 287.36H280.45M292.50 287.56V290.56M291.50 287.56H293.50M291.50 290.56H293.50M305.55 295.71V301.71M304.55 295.71H306.55M304.55 301.71H306.55M318.60 303.08V306.08M317.60 303.08H319.60M317.60 306.08H319.60M331.65 308.03V312.03M330.65 308.03H332.65M330.65 312.03H332.65M344.70 314.41V317.41M343.70 314.41H345.70M343.70 317.41H345.70" stroke="#ff2626" stroke-width="0.6" fill="none"/>
<circle cx="266.40" cy="280.25" r="1.0" fill="#ff2626"/><circle cx="279.45" cy="284.86" r="1.0" fill="#ff2626"/><circle cx="292.50" cy="289.06" r="1.0" fill="#ff2626"/><circle cx="305.55" cy="298.71" r="1.0" fill="#ff2626"/><circle cx="318.60" cy="304.58" r="1.0" fill="#ff2626"/><circle cx="331.65" cy="310.03" r="1.0" fill="#ff2626"/><circle cx="344.70" cy="315.91" r="1.0" fill="#ff2626"/>
<path d="M266.40 280.25L279.45 297.87L292.50 301.22L305.55 308.36L318.60 312.13L331.65 315.91L344.70 318.84" stroke="#b446ff" stroke-width="0.8" fill="none"/>
<path d="M266.40 275.25V285.25M265.40 275.25H267.40M265.40 285.25H267.40M279.45 295.87V299.87M278.45 295.87H280.45M278.45 299.87H280.45M292.50 299.72V302.72M291.50 299.72H293.50M291.50 302.72H293.50M305.55 306.36V310.36M304.55 306.36H306.55M304.55 310.36H306.55M318.60 310.63V313.63M317.60 310.63H319.60M317.60 313.63H319.60M331.65 314.41V317.41M330.65 314.41H332.65M330.65 317.41H332.65M344.70 317.84V319.84M343.70 317.84H345.70M343.70 319.84H345.70" stroke="#b446ff" stroke-width="0.6" fill="none"/>
<circle cx="266.40" cy="280.25" r="1.0" fill="#b446ff"/><circle cx="279.45" cy="297.87" r="1.0" fill="#b446ff"/><circle cx="292.50" cy="301.22" r="1.0" fill="#b446ff"/><circle cx="305.55" cy="308.36" r="1.0" fill="#b446ff"/><circle cx="318.60" cy="312.13" r="1.0" fill="#b446ff"/><circle cx="331.65" cy="315.91" r="1.0" fill="#b446ff"/><circle cx="344.70" cy="318.84" r="1.0" fill="#b446ff"/>
<path d="M266.40 280.25L279.45 295.35L292.50 300.81L305.55 305.00L318.60 310.03L331.65 314.23L344.70 318.84" stroke="#2626ff" stroke-width="0.8" fill="none"/>
<path d="M266.40 276.25V284.25M265.40 276.25H267.40M265.40 284.25H267.40M279.45 293.35V297.35M278.45 293.35H280.45M278.45 297.35H280.45M292.50 299.31V302.31M291.50 299.31H293.50M291.50 302.31H293.50M305.55 303.00V307.00M304.55 303.00H306.55M304.55 307.00H306.55M318.60 308.53V311.53M317.60 308.53H319.60M317.60 311.53H319.60M331.65 312.73V315.73M330.65 312.73H332.65M330.65 315.73H332.65M344.70 317.84V319.84M343.70 317.84H345.70M343.70 319.84H345.70" stroke="#2626ff" stroke-width="0.6" fill="none"/>
<circle cx="266.40" cy="280.25" r="1.0" fill="#2626ff"/><circle cx="279.45" cy="295.35" r="1.0" fill="#2626ff"/><circle cx="292.50" cy="300.81" r="1.0" fill="#2626ff"/><circle cx="305.55" cy="305.00" r="1.0" fill="#2626ff"/><circle cx="318.60" cy="310.03" r="1.0" fill="#2626ff"/><circle cx="331.65" cy="314.23" r="1.0" fill="#2626ff"/><circle cx="344.70" cy="318.84" r="1.0" fill="#2626ff"/>
<rect x="376.5" y="240.30" width="6.70" height="3.0" fill="#111" stroke="#111" stroke-width="0.6"/><rect x="377.60" y="241.40" width="4.50" height="0.8" fill="#8c8c8c"/>
<text x="385.90" y="243.55" font-size="4.9" fill="#2a2a2a" font-family="'Liberation Sans', Arial, sans-serif" stroke="none">oe-NC</text>
<rect x="376.5" y="248.70" width="6.70" height="3.0" fill="#111" stroke="#111" stroke-width="0.6"/><rect x="377.50" y="249.70" width="0.8" height="1.0" fill="#dcdcdc"/><rect x="378.90" y="249.70" width="0.8" height="1.0" fill="#dcdcdc"/><rect x="380.30" y="249.70" width="0.8" height="1.0" fill="#dcdcdc"/>
<text x="385.90" y="251.95" font-size="4.9" fill="#2a2a2a" font-family="'Liberation Sans', Arial, sans-serif" stroke="none">oe-CENP-A</text>
<rect x="376.5" y="256.70" width="6.70" height="3.0" fill="#5c5c5c" stroke="#111" stroke-width="0.6"/>
<text x="385.90" y="259.95" font-size="4.9" fill="#2a2a2a" font-family="'Liberation Sans', Arial, sans-serif" stroke="none">oe-CENP-A + sh-NC</text>
<rect x="376.5" y="264.90" width="6.70" height="3.0" fill="#111" stroke="#111" stroke-width="0.6"/><rect x="377.50" y="265.95" width="1.0" height="0.9" fill="#f0f0f0"/><rect x="379.00" y="265.95" width="1.0" height="0.9" fill="#f0f0f0"/><rect x="380.50" y="265.95" width="1.0" height="0.9" fill="#f0f0f0"/>
<text x="385.90" y="268.15" font-size="4.9" fill="#2a2a2a" font-family="'Liberation Sans', Arial, sans-serif" stroke="none">oe-CENP-A + sh-NRMT</text>
<path d="M374.60 271.00V333.00 M372.80 333.00H374.60 M372.80 317.50H374.60 M372.80 302.00H374.60 M372.80 286.50H374.60 M372.80 271.00H374.60" stroke="#000" stroke-width="0.7" fill="none"/>
<text x="371.80" y="334.66" font-size="4.6" fill="#000" text-anchor="end" font-family="'Liberation Sans', Arial, sans-serif" >0</text>
<text x="371.80" y="319.16" font-size="4.6" fill="#000" text-anchor="end" font-family="'Liberation Sans', Arial, sans-serif" >2</text>
<text x="371.80" y="303.66" font-size="4.6" fill="#000" text-anchor="end" font-family="'Liberation Sans', Arial, sans-serif" >4</text>
<text x="371.80" y="288.16" font-size="4.6" fill="#000" text-anchor="end" font-family="'Liberation Sans', Arial, sans-serif" >6</text>
<text x="371.80" y="272.66" font-size="4.6" fill="#000" text-anchor="end" font-family="'Liberation Sans', Arial, sans-serif" >8</text>
<rect x="380.00" y="302.60" width="10.00" height="30.40" fill="url(#pDark)" stroke="#000" stroke-width="0.7"/>
<path d="M385.00 302.60V300.00M382.50 300.00H387.50" stroke="#000" stroke-width="0.6"/>
<rect x="394.40" y="280.00" width="9.20" height="53.00" fill="url(#pCheck)" stroke="#000" stroke-width="0.7"/>
<path d="M399.00 280.00V277.40M396.70 277.40H401.30" stroke="#000" stroke-width="0.6"/>
<rect x="409.00" y="276.40" width="9.00" height="56.60" fill="url(#pHor)" stroke="#000" stroke-width="0.7"/>
<path d="M413.50 276.40V273.40M411.25 273.40H415.75" stroke="#000" stroke-width="0.6"/>
<rect x="423.60" y="307.00" width="8.80" height="26.00" fill="url(#pVer)" stroke="#000" stroke-width="0.7"/>
<path d="M428.00 307.00V304.00M425.80 304.00H430.20" stroke="#000" stroke-width="0.6"/>
<path d="M374.60 333.00H437.60 M385.00 333.00V334.80 M399.00 333.00V334.80 M413.50 333.00V334.80 M428.00 333.00V334.80" stroke="#000" stroke-width="0.7" fill="none"/>
<text x="399.00" y="274.60" font-size="4.6" fill="#000" text-anchor="middle" font-weight="bold" font-family="'Liberation Sans', Arial, sans-serif" >***</text>
<text x="428.00" y="302.60" font-size="4.0" fill="#000" text-anchor="middle" font-weight="bold" font-family="'Liberation Sans', Arial, sans-serif" >####</text>
<text transform="translate(365.50 301.00) rotate(-90)" font-size="5.0" fill="#111" text-anchor="middle" font-family="'Liberation Sans', Arial, sans-serif" textLength="44" lengthAdjust="spacingAndGlyphs">CDDP IC50 (μg/ml)</text>
<text x="438.40" y="247.90" font-size="9.0" fill="#000" font-weight="bold" font-family="'Liberation Sans', Arial, sans-serif" >M</text>
<rect x="458.6" y="239.80" width="6.30" height="3.0" fill="#111" stroke="#111" stroke-width="0.6"/><rect x="459.70" y="240.90" width="4.10" height="0.8" fill="#8c8c8c"/>
<text x="466.40" y="243.05" font-size="4.9" fill="#2a2a2a" font-family="'Liberation Sans', Arial, sans-serif" stroke="none">oe-NC</text>
<rect x="458.6" y="247.70" width="6.30" height="3.0" fill="#111" stroke="#111" stroke-width="0.6"/><rect x="459.60" y="248.70" width="0.8" height="1.0" fill="#dcdcdc"/><rect x="461.00" y="248.70" width="0.8" height="1.0" fill="#dcdcdc"/><rect x="462.40" y="248.70" width="0.8" height="1.0" fill="#dcdcdc"/>
<text x="466.40" y="250.95" font-size="4.9" fill="#2a2a2a" font-family="'Liberation Sans', Arial, sans-serif" stroke="none">oe-CENP-A</text>
<rect x="458.6" y="255.50" width="6.30" height="3.0" fill="#5c5c5c" stroke="#111" stroke-width="0.6"/>
<text x="466.40" y="258.75" font-size="4.9" fill="#2a2a2a" font-family="'Liberation Sans', Arial, sans-serif" stroke="none">oe-CENP-A + sh-NC</text>
<rect x="458.6" y="263.40" width="6.30" height="3.0" fill="#111" stroke="#111" stroke-width="0.6"/><rect x="459.60" y="264.45" width="1.0" height="0.9" fill="#f0f0f0"/><rect x="461.10" y="264.45" width="1.0" height="0.9" fill="#f0f0f0"/><rect x="462.60" y="264.45" width="1.0" height="0.9" fill="#f0f0f0"/>
<text x="466.40" y="266.65" font-size="4.9" fill="#2a2a2a" font-family="'Liberation Sans', Arial, sans-serif" stroke="none">oe-CENP-A + sh-NRMT</text>
<path d="M455.40 267.12V331.60 M453.60 331.60H455.40 M453.60 315.48H455.40 M453.60 299.36H455.40 M453.60 283.24H455.40 M453.60 267.12H455.40" stroke="#000" stroke-width="0.7" fill="none"/>
<text x="452.60" y="333.26" font-size="4.6" fill="#000" text-anchor="end" font-family="'Liberation Sans', Arial, sans-serif" >0</text>
<text x="452.60" y="317.14" font-size="4.6" fill="#000" text-anchor="end" font-family="'Liberation Sans', Arial, sans-serif" >20</text>
<text x="452.60" y="301.02" font-size="4.6" fill="#000" text-anchor="end" font-family="'Liberation Sans', Arial, sans-serif" >40</text>
<text x="452.60" y="284.90" font-size="4.6" fill="#000" text-anchor="end" font-family="'Liberation Sans', Arial, sans-serif" >60</text>
<text x="452.60" y="268.78" font-size="4.6" fill="#000" text-anchor="end" font-family="'Liberation Sans', Arial, sans-serif" >80</text>
<rect x="460.50" y="318.30" width="9.90" height="13.30" fill="url(#pDark)" stroke="#000" stroke-width="0.7"/>
<path d="M465.45 318.30V316.00M462.98 316.00H467.92" stroke="#000" stroke-width="0.6"/>
<rect x="474.90" y="278.30" width="9.70" height="53.30" fill="url(#pCheck)" stroke="#000" stroke-width="0.7"/>
<path d="M479.75 278.30V273.30M477.32 273.30H482.18" stroke="#000" stroke-width="0.6"/>
<rect x="490.00" y="284.60" width="9.80" height="47.00" fill="url(#pHor)" stroke="#000" stroke-width="0.7"/>
<path d="M494.90 284.60V278.30M492.45 278.30H497.35" stroke="#000" stroke-width="0.6"/>
<rect x="504.90" y="314.40" width="9.70" height="17.20" fill="url(#pVer)" stroke="#000" stroke-width="0.7"/>
<path d="M509.75 314.40V312.10M507.32 312.10H512.17" stroke="#000" stroke-width="0.6"/>
<path d="M455.40 331.60H518.60 M465.50 331.60V333.40 M479.80 331.60V333.40 M494.90 331.60V333.40 M509.80 331.60V333.40" stroke="#000" stroke-width="0.7" fill="none"/>
<text x="479.80" y="271.60" font-size="4.6" fill="#000" text-anchor="middle" font-weight="bold" font-family="'Liberation Sans', Arial, sans-serif" >****</text>
<text x="509.80" y="310.40" font-size="4.0" fill="#000" text-anchor="middle" font-weight="bold" font-family="'Liberation Sans', Arial, sans-serif" font-style="italic">####</text>
<text transform="translate(444.70 301.00) rotate(-90)" font-size="4.6" fill="#111" text-anchor="middle" font-family="'Liberation Sans', Arial, sans-serif" textLength="42" lengthAdjust="spacingAndGlyphs">EdU positive cells (%)</text>
<text x="523.80" y="246.90" font-size="9.0" fill="#000" font-weight="bold" font-family="'Liberation Sans', Arial, sans-serif" >N</text>
<rect x="541.7" y="239.80" width="6.30" height="3.0" fill="#111" stroke="#111" stroke-width="0.6"/><rect x="542.80" y="240.90" width="4.10" height="0.8" fill="#8c8c8c"/>
<text x="549.60" y="243.05" font-size="4.9" fill="#2a2a2a" font-family="'Liberation Sans', Arial, sans-serif" stroke="none">oe-NC</text>
<rect x="541.7" y="247.70" width="6.30" height="3.0" fill="#111" stroke="#111" stroke-width="0.6"/><rect x="542.70" y="248.70" width="0.8" height="1.0" fill="#dcdcdc"/><rect x="544.10" y="248.70" width="0.8" height="1.0" fill="#dcdcdc"/><rect x="545.50" y="248.70" width="0.8" height="1.0" fill="#dcdcdc"/>
<text x="549.60" y="250.95" font-size="4.9" fill="#2a2a2a" font-family="'Liberation Sans', Arial, sans-serif" stroke="none">oe-CENP-A</text>
<rect x="541.7" y="254.90" width="6.30" height="3.0" fill="#5c5c5c" stroke="#111" stroke-width="0.6"/>
<text x="549.60" y="258.15" font-size="4.9" fill="#2a2a2a" font-family="'Liberation Sans', Arial, sans-serif" stroke="none">oe-CENP-A + sh-NC</text>
<rect x="541.7" y="262.50" width="6.30" height="3.0" fill="#111" stroke="#111" stroke-width="0.6"/><rect x="542.70" y="263.55" width="1.0" height="0.9" fill="#f0f0f0"/><rect x="544.20" y="263.55" width="1.0" height="0.9" fill="#f0f0f0"/><rect x="545.70" y="263.55" width="1.0" height="0.9" fill="#f0f0f0"/>
<text x="549.60" y="265.75" font-size="4.9" fill="#2a2a2a" font-family="'Liberation Sans', Arial, sans-serif" stroke="none">oe-CENP-A + sh-NRMT</text>
<path d="M537.90 267.90V330.90 M536.10 330.90H537.90 M536.10 309.90H537.90 M536.10 288.90H537.90 M536.10 267.90H537.90" stroke="#000" stroke-width="0.7" fill="none"/>
<text x="535.10" y="332.56" font-size="4.6" fill="#000" text-anchor="end" font-family="'Liberation Sans', Arial, sans-serif" >0</text>
<text x="535.10" y="311.56" font-size="4.6" fill="#000" text-anchor="end" font-family="'Liberation Sans', Arial, sans-serif" >10</text>
<text x="535.10" y="290.56" font-size="4.6" fill="#000" text-anchor="end" font-family="'Liberation Sans', Arial, sans-serif" >20</text>
<text x="535.10" y="269.56" font-size="4.6" fill="#000" text-anchor="end" font-family="'Liberation Sans', Arial, sans-serif" >30</text>
<rect x="543.90" y="284.40" width="9.50" height="46.50" fill="url(#pDark)" stroke="#000" stroke-width="0.7"/>
<path d="M548.65 284.40V278.40M546.27 278.40H551.02" stroke="#000" stroke-width="0.6"/>
<rect x="558.40" y="304.20" width="9.40" height="26.70" fill="url(#pCheck)" stroke="#000" stroke-width="0.7"/>
<path d="M563.10 304.20V302.00M560.75 302.00H565.45" stroke="#000" stroke-width="0.6"/>
<rect x="572.50" y="300.40" width="9.50" height="30.50" fill="url(#pHor)" stroke="#000" stroke-width="0.7"/>
<path d="M577.25 300.40V297.30M574.88 297.30H579.62" stroke="#000" stroke-width="0.6"/>
<rect x="587.30" y="281.50" width="9.50" height="49.40" fill="url(#pVer)" stroke="#000" stroke-width="0.7"/>
<path d="M592.05 281.50V277.50M589.67 277.50H594.42" stroke="#000" stroke-width="0.6"/>
<path d="M537.90 330.90H600.50 M548.60 330.90V332.70 M563.10 330.90V332.70 M577.20 330.90V332.70 M592.00 330.90V332.70" stroke="#000" stroke-width="0.7" fill="none"/>
<text x="563.10" y="300.00" font-size="4.4" fill="#000" text-anchor="middle" font-weight="bold" font-family="'Liberation Sans', Arial, sans-serif" >##</text>
<text x="592.00" y="275.00" font-size="4.4" fill="#000" text-anchor="middle" font-weight="bold" font-family="'Liberation Sans', Arial, sans-serif" >##</text>
<text transform="translate(528.20 300.00) rotate(-90)" font-size="5.2" fill="#111" text-anchor="middle" font-family="'Liberation Sans', Arial, sans-serif" textLength="44" lengthAdjust="spacingAndGlyphs">Apoptosis rate (%)</text>
<text x="603.30" y="247.90" font-size="9.0" fill="#000" font-weight="bold" font-family="'Liberation Sans', Arial, sans-serif" >O</text>
<rect x="624.6" y="240.10" width="6.60" height="3.0" fill="#111" stroke="#111" stroke-width="0.6"/><rect x="625.70" y="241.20" width="4.40" height="0.8" fill="#8c8c8c"/>
<text x="633.80" y="243.35" font-size="4.9" fill="#2a2a2a" font-family="'Liberation Sans', Arial, sans-serif" stroke="none">oe-NC</text>
<rect x="624.6" y="247.30" width="6.60" height="3.0" fill="#111" stroke="#111" stroke-width="0.6"/><rect x="625.60" y="248.30" width="0.8" height="1.0" fill="#dcdcdc"/><rect x="627.00" y="248.30" width="0.8" height="1.0" fill="#dcdcdc"/><rect x="628.40" y="248.30" width="0.8" height="1.0" fill="#dcdcdc"/>
<text x="633.80" y="250.55" font-size="4.9" fill="#2a2a2a" font-family="'Liberation Sans', Arial, sans-serif" stroke="none">oe-CENP-A</text>
<rect x="624.6" y="255.20" width="6.60" height="3.0" fill="#5c5c5c" stroke="#111" stroke-width="0.6"/>
<text x="633.80" y="258.45" font-size="4.9" fill="#2a2a2a" font-family="'Liberation Sans', Arial, sans-serif" stroke="none">oe-CENP-A + sh-NC</text>
<rect x="624.6" y="263.10" width="6.60" height="3.0" fill="#111" stroke="#111" stroke-width="0.6"/><rect x="625.40" y="263.80" width="5.00" height="1.6" fill="#7a7a7a"/>
<text x="633.80" y="266.35" font-size="4.9" fill="#2a2a2a" font-family="'Liberation Sans', Arial, sans-serif" stroke="none">oe-CENP-A + sh-NRMT</text>
<path d="M618.60 269.45V332.20 M616.80 332.20H618.60 M616.80 319.65H618.60 M616.80 307.10H618.60 M616.80 294.55H618.60 M616.80 282.00H618.60 M616.80 269.45H618.60" stroke="#000" stroke-width="0.7" fill="none"/>
<text x="615.80" y="333.78" font-size="4.4" fill="#000" text-anchor="end" font-family="'Liberation Sans', Arial, sans-serif" >0.0</text>
<text x="615.80" y="321.23" font-size="4.4" fill="#000" text-anchor="end" font-family="'Liberation Sans', Arial, sans-serif" >0.5</text>
<text x="615.80" y="308.68" font-size="4.4" fill="#000" text-anchor="end" font-family="'Liberation Sans', Arial, sans-serif" >1.0</text>
<text x="615.80" y="296.13" font-size="4.4" fill="#000" text-anchor="end" font-family="'Liberation Sans', Arial, sans-serif" >1.5</text>
<text x="615.80" y="283.58" font-size="4.4" fill="#000" text-anchor="end" font-family="'Liberation Sans', Arial, sans-serif" >2.0</text>
<text x="615.80" y="271.03" font-size="4.4" fill="#000" text-anchor="end" font-family="'Liberation Sans', Arial, sans-serif" >2.5</text>
<rect x="621.00" y="302.08" width="3.20" height="30.12" fill="url(#pDark)" stroke="#000" stroke-width="0.5"/>
<path d="M622.60 302.08V299.57M621.80 299.57H623.40" stroke="#000" stroke-width="0.6"/>
<rect x="624.20" y="285.76" width="3.20" height="46.44" fill="url(#pCheck)" stroke="#000" stroke-width="0.5"/>
<path d="M625.80 285.76V278.24M625.00 278.24H626.60" stroke="#000" stroke-width="0.6"/>
<rect x="627.40" y="287.02" width="3.20" height="45.18" fill="url(#pHor)" stroke="#000" stroke-width="0.5"/>
<path d="M629.00 287.02V279.49M628.20 279.49H629.80" stroke="#000" stroke-width="0.6"/>
<rect x="631.60" y="303.84" width="3.20" height="28.36" fill="url(#pMid)" stroke="#000" stroke-width="0.5"/>
<path d="M633.20 303.84V300.07M632.40 300.07H634.00" stroke="#000" stroke-width="0.6"/>
<rect x="637.80" y="322.41" width="3.20" height="9.79" fill="url(#pDark)" stroke="#000" stroke-width="0.5"/>
<path d="M639.40 322.41V321.41M638.60 321.41H640.20" stroke="#000" stroke-width="0.6"/>
<rect x="641.00" y="328.44" width="3.20" height="3.76" fill="url(#pCheck)" stroke="#000" stroke-width="0.5"/>
<path d="M642.60 328.44V327.68M641.80 327.68H643.40" stroke="#000" stroke-width="0.6"/>
<rect x="644.20" y="328.94" width="3.20" height="3.26" fill="url(#pHor)" stroke="#000" stroke-width="0.5"/>
<path d="M645.80 328.94V328.18M645.00 328.18H646.60" stroke="#000" stroke-width="0.6"/>
<rect x="648.40" y="320.90" width="3.20" height="11.30" fill="url(#pMid)" stroke="#000" stroke-width="0.5"/>
<path d="M650.00 320.90V319.90M649.20 319.90H650.80" stroke="#000" stroke-width="0.6"/>
<rect x="653.00" y="314.88" width="3.20" height="17.32" fill="url(#pDark)" stroke="#000" stroke-width="0.5"/>
<path d="M654.60 314.88V313.38M653.80 313.38H655.40" stroke="#000" stroke-width="0.6"/>
<rect x="656.20" y="311.87" width="3.20" height="20.33" fill="url(#pCheck)" stroke="#000" stroke-width="0.5"/>
<path d="M657.80 311.87V310.36M657.00 310.36H658.60" stroke="#000" stroke-width="0.6"/>
<rect x="659.40" y="312.87" width="3.20" height="19.33" fill="url(#pHor)" stroke="#000" stroke-width="0.5"/>
<path d="M661.00 312.87V310.87M660.20 310.87H661.80" stroke="#000" stroke-width="0.6"/>
<rect x="663.60" y="312.37" width="3.20" height="19.83" fill="url(#pMid)" stroke="#000" stroke-width="0.5"/>
<path d="M665.20 312.37V309.86M664.40 309.86H666.00" stroke="#000" stroke-width="0.6"/>
<rect x="668.80" y="311.87" width="3.20" height="20.33" fill="url(#pDark)" stroke="#000" stroke-width="0.5"/>
<path d="M670.40 311.87V310.36M669.60 310.36H671.20" stroke="#000" stroke-width="0.6"/>
<rect x="672.00" y="321.91" width="3.20" height="10.29" fill="url(#pCheck)" stroke="#000" stroke-width="0.5"/>
<path d="M673.60 321.91V321.16M672.80 321.16H674.40" stroke="#000" stroke-width="0.6"/>
<rect x="675.20" y="323.16" width="3.20" height="9.04" fill="url(#pHor)" stroke="#000" stroke-width="0.5"/>
<path d="M676.80 323.16V322.41M676.00 322.41H677.60" stroke="#000" stroke-width="0.6"/>
<rect x="679.40" y="308.61" width="3.20" height="23.59" fill="url(#pMid)" stroke="#000" stroke-width="0.5"/>
<path d="M681.00 308.61V307.10M680.20 307.10H681.80" stroke="#000" stroke-width="0.6"/>
<path d="M618.60 332.20H686.00 M627.90 332.20V334.00 M644.70 332.20V334.00 M659.90 332.20V334.00 M675.70 332.20V334.00" stroke="#000" stroke-width="0.7" fill="none"/>
<text x="627.40" y="279.40" font-size="3.6" fill="#000" text-anchor="middle" font-family="'Liberation Sans', Arial, sans-serif" >**</text>
<text x="634.20" y="298.40" font-size="3.6" fill="#000" text-anchor="middle" font-weight="bold" font-family="'Liberation Sans', Arial, sans-serif" >##</text>
<text x="642.60" y="325.60" font-size="3.4" fill="#000" text-anchor="middle" font-family="'Liberation Sans', Arial, sans-serif" >***</text>
<text x="648.60" y="318.20" font-size="3.6" fill="#000" text-anchor="middle" font-weight="bold" font-family="'Liberation Sans', Arial, sans-serif" >####</text>
<text x="674.60" y="320.60" font-size="3.4" fill="#000" text-anchor="middle" font-family="'Liberation Sans', Arial, sans-serif" >***</text>
<text x="681.00" y="305.80" font-size="3.6" fill="#000" text-anchor="middle" font-weight="bold" font-family="'Liberation Sans', Arial, sans-serif" >####</text>
<text transform="translate(627.60 339.60) rotate(-16)" font-size="4.9" fill="#111" text-anchor="end" font-family="'Liberation Sans', Arial, sans-serif" >PARP</text>
<text transform="translate(644.20 340.60) rotate(-16)" font-size="4.9" fill="#111" text-anchor="end" font-family="'Liberation Sans', Arial, sans-serif" >cleaved PARP</text>
<text transform="translate(661.60 339.80) rotate(-16)" font-size="4.9" fill="#111" text-anchor="end" font-family="'Liberation Sans', Arial, sans-serif" >Caspase3</text>
<text transform="translate(677.40 340.20) rotate(-16)" font-size="4.9" fill="#111" text-anchor="end" font-family="'Liberation Sans', Arial, sans-serif" >cleaved Caspase3</text>
<text transform="translate(608.30 302.70) rotate(-90)" font-size="5.1" fill="#111" text-anchor="middle" font-family="'Liberation Sans', Arial, sans-serif" textLength="58" lengthAdjust="spacingAndGlyphs">Relative protein expression</text>
</g>
</svg>
</div></body></html>
